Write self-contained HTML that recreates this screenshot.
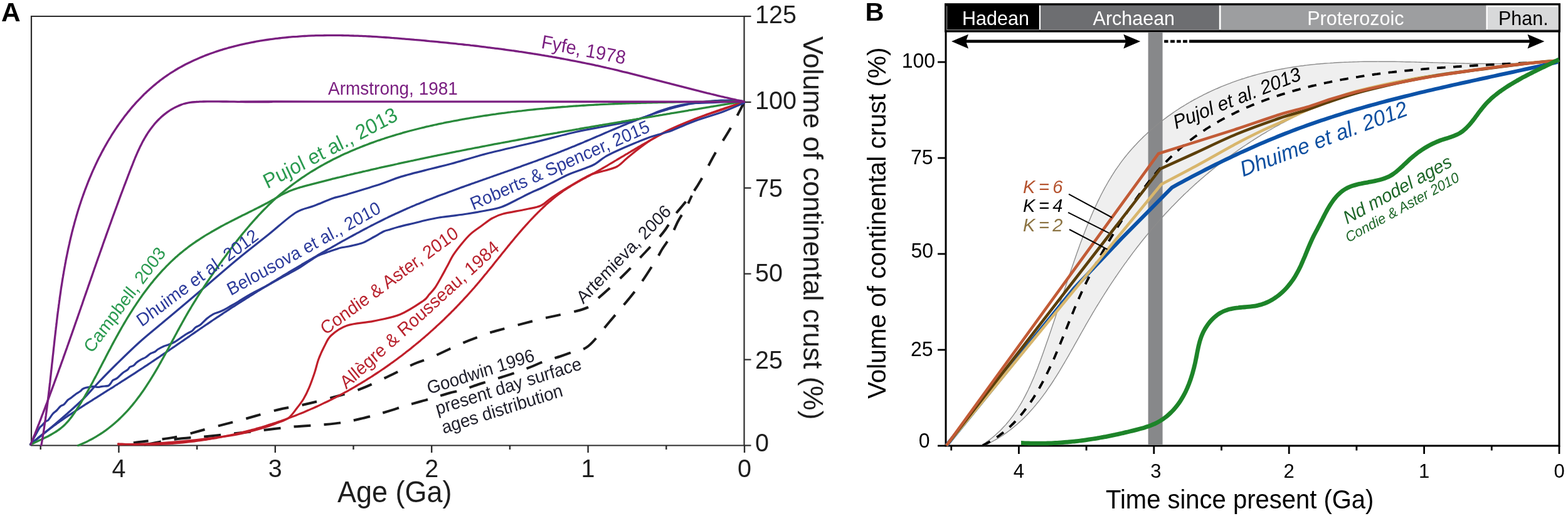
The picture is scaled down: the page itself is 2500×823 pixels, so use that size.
<!DOCTYPE html><html><head><meta charset="utf-8"><style>html,body{margin:0;padding:0;background:#fff;}svg{display:block;}text{font-family:'Liberation Sans',Arial,sans-serif;}</style></head><body>
<svg width="2500" height="823" viewBox="0 0 2500 823">
<rect width="2500" height="823" fill="#fff"/>
<text transform="translate(2.0,34.0)" font-size="42.5" fill="#000" font-weight="bold">A</text>
<path d="M50 26 H1186.5 V710.5 H50 Z" fill="none" stroke="#2b2b2b" stroke-width="2.2"/>
<path d="M1186.5 710.5 H1197.5" stroke="#2b2b2b" stroke-width="2.2"/>
<text transform="translate(1204.0,719.6) scale(1,1.040)" font-size="39.5" fill="#1e1e1e">0</text>
<path d="M1186.5 573.6 H1197.5" stroke="#2b2b2b" stroke-width="2.2"/>
<text transform="translate(1204.0,588.2) scale(1,1.040)" font-size="39.5" fill="#1e1e1e">25</text>
<path d="M1186.5 436.7 H1197.5" stroke="#2b2b2b" stroke-width="2.2"/>
<text transform="translate(1204.0,448.8) scale(1,1.040)" font-size="39.5" fill="#1e1e1e">50</text>
<path d="M1186.5 299.8 H1197.5" stroke="#2b2b2b" stroke-width="2.2"/>
<text transform="translate(1204.0,313.8) scale(1,1.040)" font-size="39.5" fill="#1e1e1e">75</text>
<path d="M1186.5 162.9 H1197.5" stroke="#2b2b2b" stroke-width="2.2"/>
<text transform="translate(1204.0,174.2) scale(1,1.040)" font-size="39.5" fill="#1e1e1e">100</text>
<path d="M1186.5 26.0 H1197.5" stroke="#2b2b2b" stroke-width="2.2"/>
<text transform="translate(1204.0,37.1) scale(1,1.040)" font-size="39.5" fill="#1e1e1e">125</text>
<path d="M64.7 710.5 V717.0" stroke="#2b2b2b" stroke-width="2.4"/>
<path d="M189.4 710.5 V722.0" stroke="#2b2b2b" stroke-width="2.4"/>
<text transform="translate(189.4,761.0) scale(1,1.040)" font-size="39.5" fill="#1e1e1e" text-anchor="middle">4</text>
<path d="M314.1 710.5 V717.0" stroke="#2b2b2b" stroke-width="2.4"/>
<path d="M438.8 710.5 V722.0" stroke="#2b2b2b" stroke-width="2.4"/>
<text transform="translate(438.8,761.0) scale(1,1.040)" font-size="39.5" fill="#1e1e1e" text-anchor="middle">3</text>
<path d="M563.5 710.5 V717.0" stroke="#2b2b2b" stroke-width="2.4"/>
<path d="M688.2 710.5 V722.0" stroke="#2b2b2b" stroke-width="2.4"/>
<text transform="translate(688.2,761.0) scale(1,1.040)" font-size="39.5" fill="#1e1e1e" text-anchor="middle">2</text>
<path d="M812.9 710.5 V717.0" stroke="#2b2b2b" stroke-width="2.4"/>
<path d="M937.6 710.5 V722.0" stroke="#2b2b2b" stroke-width="2.4"/>
<text transform="translate(937.6,761.0) scale(1,1.040)" font-size="39.5" fill="#1e1e1e" text-anchor="middle">1</text>
<path d="M1062.3 710.5 V717.0" stroke="#2b2b2b" stroke-width="2.4"/>
<path d="M1187.0 710.5 V722.0" stroke="#2b2b2b" stroke-width="2.4"/>
<text transform="translate(1187.0,761.0) scale(1,1.040)" font-size="39.5" fill="#1e1e1e" text-anchor="middle">0</text>
<text transform="translate(538.0,801.0) scale(1,1.060)" font-size="45.0" fill="#1e1e1e">Age (Ga)</text>
<text transform="translate(1280.5,57.8) rotate(90)" x="0" y="0" font-size="44.2" fill="#1e1e1e">Volume of continental crust (%)</text>
<path d="M230.3 709.5 C238.3 708.0 261.3 703.0 278.4 700.7 C295.5 698.4 313.1 697.7 333.1 695.7 C353.2 693.7 376.8 691.2 398.7 688.7 C420.6 686.2 444.2 683.0 464.3 681.0 C484.4 679.0 504.7 678.3 519.0 677.0 C533.3 675.7 540.4 674.9 550.0 673.3 C559.6 671.7 568.7 669.3 576.5 667.5 C584.3 665.7 589.1 664.6 597.0 662.4 C604.9 660.2 616.2 656.8 624.0 654.4 C631.8 652.0 636.3 650.3 644.0 648.0 C651.7 645.7 662.2 642.7 670.0 640.5 C677.8 638.3 683.2 637.0 691.0 634.7 C698.8 632.4 709.3 628.8 717.0 626.7 C724.7 624.6 729.3 624.3 737.0 622.0 C744.7 619.7 756.7 615.1 763.0 613.0 C769.3 610.9 768.8 611.2 775.0 609.3 C781.2 607.4 792.3 603.9 800.0 601.5 C807.7 599.1 813.2 597.5 821.0 594.7 C828.8 592.0 839.5 588.0 847.0 585.0 C854.5 582.0 858.3 579.8 866.0 577.0 C873.7 574.2 885.3 571.0 893.0 568.5 C900.7 566.0 904.5 564.5 912.0 561.7 C919.5 559.0 928.0 560.1 938.0 552.0 C948.0 543.9 959.2 528.2 972.0 513.0 C984.8 497.8 1002.8 477.2 1015.0 461.0 C1027.2 444.8 1038.2 426.7 1045.0 416.0 C1051.8 405.3 1051.8 403.7 1056.0 397.0 C1060.2 390.3 1065.8 383.3 1070.0 376.0 C1074.2 368.7 1077.2 360.2 1081.0 353.0 C1084.8 345.8 1089.3 339.8 1093.0 333.0 C1096.7 326.2 1101.3 315.5 1103.0 312.0" fill="none" stroke="#1a1a1a" stroke-width="4.0" stroke-linejoin="round" stroke-dasharray="27 21" stroke-linecap="butt"/>
<path d="M212.8 706.2 C223.7 704.7 258.3 701.2 278.4 697.4 C298.4 693.6 314.9 687.9 333.1 683.2 C351.3 678.5 369.5 673.9 387.7 669.0 C405.9 664.1 426.0 657.7 442.4 653.7 C458.8 649.7 471.5 648.3 486.1 645.0 C500.7 641.7 515.3 638.0 529.9 634.0 C544.5 630.0 559.0 626.4 573.6 620.9 C588.2 615.4 602.9 607.9 617.3 601.2 C631.7 594.5 648.2 585.7 660.0 580.5 C671.8 575.3 675.2 575.5 688.0 570.0 C700.8 564.5 722.5 553.6 737.0 547.4 C751.5 541.2 766.2 536.2 775.0 533.0 C783.8 529.8 775.5 532.0 790.0 528.0 C804.5 524.0 838.7 514.8 862.0 509.0 C885.3 503.2 915.3 498.0 930.0 493.0 C944.7 488.0 939.3 488.0 950.0 479.0 C960.7 470.0 980.7 452.0 994.0 439.0 C1007.3 426.0 1021.2 410.3 1030.0 401.0 C1038.8 391.7 1041.8 388.8 1047.0 383.0 C1052.2 377.2 1056.2 372.7 1061.0 366.0 C1065.8 359.3 1071.3 349.5 1076.0 343.0 C1080.7 336.5 1084.7 332.3 1089.0 327.0 C1093.3 321.7 1097.3 317.5 1102.0 311.0 C1106.7 304.5 1110.7 299.0 1117.0 288.0 C1123.3 277.0 1132.0 259.0 1140.0 245.0 C1148.0 231.0 1157.2 217.8 1165.0 204.0 C1172.8 190.2 1183.3 169.0 1187.0 162.0" fill="none" stroke="#1a1a1a" stroke-width="4.0" stroke-linejoin="round" stroke-dasharray="24 22" stroke-linecap="butt"/>
<path d="M188.5 707.8 C189.5 707.9 192.5 708.1 194.6 708.2 C196.6 708.3 198.7 708.4 200.7 708.5 C202.7 708.5 204.8 708.6 206.8 708.7 C208.9 708.7 210.9 708.8 212.9 708.8 C215.0 708.9 217.0 708.9 219.1 709.0 C221.1 709.0 223.1 709.0 225.2 709.0 C227.2 709.0 229.2 709.0 231.3 709.0 C233.3 709.0 235.3 709.0 237.4 708.9 C239.4 708.9 241.4 708.9 243.5 708.8 C245.5 708.8 247.5 708.7 249.6 708.6 C251.6 708.6 253.6 708.5 255.7 708.4 C257.7 708.3 259.7 708.2 261.7 708.1 C263.8 708.0 265.8 707.9 267.8 707.8 C269.8 707.7 271.9 707.5 273.9 707.4 C275.9 707.2 277.9 707.1 279.9 706.9 C282.0 706.8 284.0 706.6 286.0 706.4 C288.0 706.2 290.0 706.0 292.0 705.8 C294.1 705.6 296.1 705.4 298.1 705.2 C300.1 705.0 302.1 704.8 304.1 704.5 C306.1 704.3 308.1 704.1 310.1 703.8 C312.1 703.6 314.1 703.3 316.1 703.0 C318.1 702.8 320.1 702.5 322.1 702.2 C324.1 701.9 326.1 701.6 328.1 701.3 C330.1 701.0 332.1 700.7 334.1 700.3 C336.1 700.0 338.1 699.7 340.1 699.3 C342.1 699.0 344.1 698.6 346.1 698.3 C348.0 697.9 350.0 697.5 352.0 697.2 C354.0 696.8 356.0 696.4 357.9 696.0 C359.9 695.6 361.9 695.2 363.9 694.8 C365.8 694.4 367.8 693.9 369.8 693.5 C371.7 693.1 373.7 692.6 375.7 692.2 C377.6 691.7 379.6 691.3 381.6 690.8 C383.5 690.3 385.5 689.9 387.4 689.4 C389.4 688.9 391.3 688.4 393.3 687.9 C395.2 687.4 397.2 686.9 399.1 686.4 C401.1 685.8 403.0 685.3 405.0 684.8 C406.9 684.2 408.9 683.7 410.8 683.1 C412.7 682.6 414.7 682.0 416.6 681.5 C418.5 680.9 420.4 680.3 422.4 679.7 C424.3 679.1 426.2 678.5 428.1 677.9 C430.1 677.3 432.0 676.7 433.9 676.1 C435.8 675.4 437.7 674.8 439.6 674.2 C441.5 673.5 443.4 672.9 445.4 672.2 C447.3 671.6 449.2 670.9 451.1 670.2 C452.9 669.6 454.8 668.9 456.7 668.2 C458.6 667.5 460.5 666.8 462.4 666.1 C464.3 665.4 466.2 664.7 468.0 663.9 C469.9 663.2 471.8 662.5 473.7 661.7 C475.5 661.0 477.4 660.2 479.3 659.5 C481.1 658.7 483.0 658.0 484.9 657.2 C486.7 656.4 488.6 655.6 490.4 654.8 C492.3 654.0 494.1 653.2 496.0 652.4 C497.8 651.6 499.7 650.8 501.5 650.0 C503.4 649.2 505.2 648.3 507.0 647.5 C508.9 646.6 510.7 645.8 512.5 644.9 C514.3 644.1 516.1 643.2 518.0 642.3 C519.8 641.5 521.6 640.6 523.4 639.7 C525.2 638.8 527.0 637.9 528.8 637.0 C530.6 636.1 532.4 635.2 534.2 634.3 C536.0 633.3 537.8 632.4 539.6 631.5 C541.4 630.5 543.2 629.6 544.9 628.6 C546.7 627.7 548.5 626.7 550.3 625.7 C552.0 624.8 553.8 623.8 555.6 622.8 C557.3 621.8 559.1 620.8 560.8 619.8 C562.6 618.8 564.3 617.8 566.1 616.8 C567.8 615.8 569.6 614.8 571.3 613.7 C573.1 612.7 574.8 611.7 576.5 610.6 C578.3 609.6 580.0 608.5 581.7 607.5 C583.4 606.4 585.1 605.3 586.8 604.2 C588.6 603.2 590.3 602.1 592.0 601.0 C593.7 599.9 595.4 598.8 597.1 597.7 C598.8 596.6 600.5 595.5 602.1 594.4 C603.8 593.2 605.5 592.1 607.2 591.0 C608.9 589.9 610.5 588.7 612.2 587.6 C613.9 586.4 615.5 585.3 617.2 584.1 C618.8 582.9 620.5 581.8 622.1 580.6 C623.8 579.4 625.4 578.2 627.1 577.1 C628.7 575.9 630.4 574.7 632.0 573.5 C633.6 572.3 635.2 571.1 636.9 569.8 C638.5 568.6 640.1 567.4 641.7 566.2 C643.3 564.9 644.9 563.7 646.5 562.5 C648.1 561.2 649.7 560.0 651.3 558.7 C652.9 557.5 654.5 556.2 656.1 554.9 C657.7 553.7 659.2 552.4 660.8 551.1 C662.4 549.8 663.9 548.5 665.5 547.3 C667.1 546.0 668.6 544.7 670.2 543.4 C671.7 542.0 673.3 540.7 674.8 539.4 C676.3 538.1 677.9 536.8 679.4 535.4 C680.9 534.1 682.5 532.8 684.0 531.4 C685.5 530.1 687.0 528.7 688.5 527.4 C690.0 526.0 691.5 524.7 693.0 523.3 C694.5 521.9 696.0 520.6 697.5 519.2 C699.0 517.8 700.5 516.4 701.9 515.1 C703.4 513.7 704.9 512.3 706.4 510.9 C707.8 509.5 709.3 508.1 710.7 506.7 C712.2 505.2 713.6 503.8 715.1 502.4 C716.5 501.0 718.0 499.6 719.4 498.1 C720.8 496.7 722.2 495.2 723.7 493.8 C725.1 492.4 726.5 490.9 727.9 489.5 C729.3 488.0 730.7 486.5 732.1 485.1 C733.5 483.6 734.9 482.1 736.3 480.7 C737.7 479.2 739.0 477.7 740.4 476.2 C741.8 474.7 743.2 473.2 744.5 471.8 C745.9 470.3 747.2 468.8 748.6 467.2 C749.9 465.7 751.3 464.2 752.6 462.7 C753.9 461.2 755.3 459.7 756.6 458.2 C757.9 456.6 759.2 455.1 760.6 453.6 C761.9 452.0 763.2 450.5 764.5 448.9 C765.8 447.4 767.1 445.9 768.4 444.3 C769.7 442.8 770.9 441.2 772.2 439.6 C773.5 438.1 774.8 436.5 776.1 435.0 C777.3 433.4 778.6 431.8 779.9 430.3 C781.2 428.7 782.4 427.1 783.7 425.6 C785.0 424.0 786.2 422.4 787.5 420.9 C788.7 419.3 790.0 417.7 791.3 416.1 C792.5 414.6 793.8 413.0 795.0 411.4 C796.3 409.9 797.6 408.3 798.8 406.7 C800.1 405.1 801.3 403.6 802.6 402.0 C803.9 400.4 805.1 398.9 806.4 397.3 C807.7 395.7 808.9 394.2 810.2 392.6 C811.5 391.0 812.8 389.5 814.0 387.9 C815.3 386.4 816.6 384.8 817.9 383.3 C819.2 381.7 820.4 380.2 821.7 378.6 C823.0 377.1 824.3 375.6 825.6 374.0 C826.9 372.5 828.2 371.0 829.6 369.4 C830.9 367.9 832.2 366.4 833.5 364.9 C834.8 363.4 836.2 361.9 837.5 360.4 C838.9 358.9 840.2 357.4 841.6 355.9 C842.9 354.4 844.3 352.9 845.6 351.5 C847.0 350.0 848.4 348.5 849.8 347.1 C851.2 345.6 852.6 344.2 854.0 342.7 C855.4 341.3 856.8 339.8 858.2 338.4 C859.7 337.0 861.1 335.6 862.6 334.2 C864.0 332.8 865.5 331.4 866.9 330.0 C868.4 328.6 869.9 327.3 871.4 325.9 C872.9 324.6 874.4 323.3 875.9 321.9 C877.4 320.6 879.0 319.3 880.5 318.0 C882.0 316.7 883.6 315.5 885.2 314.2 C886.7 313.0 888.3 311.7 889.9 310.5 C891.5 309.3 893.1 308.1 894.8 306.9 C896.4 305.8 898.0 304.6 899.7 303.5 C901.3 302.4 903.0 301.3 904.7 300.2 C906.4 299.1 908.1 298.0 909.8 297.0 C911.5 295.9 913.2 294.9 915.0 293.9 C916.7 292.8 918.4 291.8 920.2 290.8 C921.9 289.8 923.7 288.9 925.4 287.9 C927.2 286.9 929.0 285.9 930.7 284.9 C932.5 284.0 934.3 283.0 936.0 282.1 C937.8 281.1 939.6 280.1 941.4 279.2 C943.1 278.2 944.9 277.2 946.7 276.3 C948.5 275.3 950.2 274.3 952.0 273.3 C953.8 272.3 955.5 271.3 957.3 270.3 C959.0 269.3 960.8 268.3 962.5 267.3 C964.3 266.3 966.0 265.3 967.8 264.3 C969.5 263.3 971.3 262.2 973.0 261.2 C974.8 260.2 976.5 259.2 978.2 258.1 C980.0 257.1 981.7 256.1 983.4 255.0 C985.2 254.0 986.9 253.0 988.7 251.9 C990.4 250.9 992.1 249.8 993.9 248.8 C995.6 247.8 997.3 246.7 999.1 245.7 C1000.8 244.7 1002.5 243.6 1004.3 242.6 C1006.0 241.6 1007.7 240.5 1009.5 239.5 C1011.2 238.5 1012.9 237.4 1014.7 236.4 C1016.4 235.4 1018.2 234.4 1019.9 233.3 C1021.6 232.3 1023.4 231.3 1025.1 230.3 C1026.9 229.3 1028.6 228.3 1030.4 227.3 C1032.1 226.3 1033.9 225.3 1035.6 224.3 C1037.4 223.3 1039.2 222.3 1040.9 221.4 C1042.7 220.4 1044.5 219.4 1046.2 218.5 C1048.0 217.5 1049.8 216.6 1051.6 215.6 C1053.3 214.7 1055.1 213.7 1056.9 212.8 C1058.7 211.9 1060.5 211.0 1062.3 210.1 C1064.1 209.2 1065.9 208.3 1067.7 207.4 C1069.5 206.5 1071.3 205.7 1073.2 204.8 C1075.0 204.0 1076.8 203.1 1078.6 202.3 C1080.5 201.4 1082.3 200.6 1084.2 199.8 C1086.0 199.0 1087.8 198.2 1089.7 197.4 C1091.5 196.6 1093.4 195.8 1095.3 195.0 C1097.1 194.2 1099.0 193.5 1100.9 192.7 C1102.7 191.9 1104.6 191.2 1106.5 190.4 C1108.3 189.7 1110.2 189.0 1112.1 188.2 C1114.0 187.5 1115.9 186.8 1117.8 186.1 C1119.7 185.3 1121.5 184.6 1123.4 183.9 C1125.3 183.2 1127.2 182.5 1129.1 181.8 C1131.0 181.2 1132.9 180.5 1134.8 179.8 C1136.8 179.1 1138.7 178.4 1140.6 177.8 C1142.5 177.1 1144.4 176.4 1146.3 175.8 C1148.2 175.1 1150.1 174.4 1152.0 173.8 C1154.0 173.1 1155.9 172.5 1157.8 171.8 C1159.7 171.2 1161.6 170.6 1163.6 169.9 C1165.5 169.3 1167.4 168.6 1169.3 168.0 C1171.3 167.4 1173.2 166.7 1175.1 166.1 C1177.0 165.5 1179.0 164.8 1180.9 164.2 C1182.8 163.6 1185.7 162.6 1186.6 162.3" fill="none" stroke="#c01f2a" stroke-width="3.2" stroke-linejoin="round" stroke-linecap="round" />
<path d="M188.7 709.0 C198.2 708.7 225.2 708.5 245.6 707.3 C266.0 706.1 289.3 704.2 311.2 701.8 C333.1 699.4 358.6 696.4 376.8 693.1 C395.0 689.8 409.6 685.2 420.5 682.1 C431.4 679.0 435.8 677.0 442.4 674.5 C449.0 672.0 454.8 670.6 459.9 666.8 C465.0 663.0 469.0 656.6 473.0 651.5 C477.0 646.4 480.7 641.7 484.0 636.2 C487.3 630.7 489.8 625.6 492.7 618.7 C495.6 611.8 498.9 602.4 501.5 594.7 C504.1 587.1 505.4 579.7 508.0 572.8 C510.6 565.9 513.5 559.4 516.8 553.1 C520.1 546.8 521.9 540.6 528.0 535.0 C534.1 529.4 542.1 523.0 553.4 519.2 C564.7 515.4 581.6 515.1 595.7 512.1 C609.8 509.2 624.9 506.9 638.0 501.5 C651.1 496.1 666.9 485.2 674.6 480.0 C682.3 474.8 680.9 473.5 684.0 470.0 C687.1 466.5 690.2 463.7 693.5 459.0 C696.8 454.3 700.5 447.3 703.7 441.7 C706.9 436.1 709.3 431.4 712.5 425.6 C715.7 419.8 718.8 412.8 722.7 406.7 C726.6 400.6 731.2 394.8 735.8 389.2 C740.4 383.6 745.0 378.0 750.4 373.1 C755.8 368.2 762.2 364.2 768.0 360.0 C773.8 355.8 779.4 351.1 785.0 348.0 C790.6 344.9 792.7 343.6 801.5 341.3 C810.3 339.0 827.9 336.2 838.0 334.0 C848.1 331.8 855.3 331.2 862.3 328.0 C869.3 324.8 872.5 320.0 880.0 315.0 C887.5 310.0 896.8 304.0 907.0 298.0 C917.2 292.0 931.3 283.3 941.0 279.0 C950.7 274.7 957.8 274.2 965.0 272.0 C972.2 269.8 978.2 268.8 984.0 265.5 C989.8 262.2 994.0 256.9 1000.0 252.0 C1006.0 247.1 1013.3 241.0 1020.0 236.0 C1026.7 231.0 1032.2 226.8 1040.0 222.0 C1047.8 217.2 1055.3 212.5 1067.0 207.0 C1078.7 201.5 1095.5 194.5 1110.0 189.0 C1124.5 183.5 1141.2 178.5 1154.0 174.0 C1166.8 169.5 1181.1 164.0 1186.5 162.0" fill="none" stroke="#c01f2a" stroke-width="3.2" stroke-linejoin="round" stroke-linecap="round" />
<path d="M48.5 709.0 C49.8 706.7 53.5 699.5 56.0 695.0 C58.5 690.5 61.4 684.8 63.3 682.0 C65.2 679.2 65.6 680.0 67.2 678.3 C68.8 676.6 71.4 673.4 73.0 672.0 C74.6 670.6 75.1 672.0 77.0 670.0 C78.9 668.0 82.0 662.5 84.2 660.0 C86.4 657.5 88.0 657.0 90.0 655.0 C92.0 653.0 94.4 649.7 96.4 648.0 C98.4 646.3 100.0 646.7 102.0 645.0 C104.0 643.3 106.1 639.8 108.1 638.0 C110.1 636.2 111.8 635.7 114.0 634.0 C116.2 632.3 119.3 629.7 121.6 628.0 C123.9 626.3 126.3 625.3 128.0 624.0 C129.7 622.7 130.4 621.4 131.9 620.4 C133.4 619.4 134.9 618.9 137.2 618.3 C139.5 617.7 143.6 617.3 145.5 617.0 C147.4 616.7 147.0 616.3 148.8 616.4 C150.7 616.5 154.3 617.5 156.6 617.5 C158.9 617.5 159.9 616.6 162.5 616.3 C165.1 615.9 169.9 616.1 172.2 615.4 C174.5 614.7 174.8 613.4 176.1 611.9 C177.4 610.4 178.3 608.0 180.0 606.6 C181.7 605.2 183.8 605.3 186.4 603.4 C189.0 601.5 192.7 597.3 195.5 595.0 C198.3 592.7 201.5 591.4 203.4 589.8 C205.3 588.2 205.6 586.4 207.2 585.3 C208.8 584.2 211.2 584.2 213.0 583.0 C214.8 581.8 216.1 579.6 218.0 578.0 C219.9 576.4 222.3 574.9 224.6 573.6 C226.9 572.3 229.4 571.6 232.0 570.0 C234.6 568.4 237.5 565.4 240.0 563.9 C242.5 562.4 245.0 562.1 247.0 561.0 C249.0 559.9 249.6 558.5 252.0 557.0 C254.4 555.5 258.5 553.5 261.2 552.3 C263.9 551.1 265.1 551.1 268.0 550.0 C270.9 548.9 275.0 547.3 278.3 545.5 C281.6 543.7 284.6 541.3 288.0 539.0 C291.4 536.7 295.7 533.7 298.7 531.9 C301.7 530.1 303.8 529.6 306.0 528.0 C308.2 526.4 309.8 523.6 312.0 522.0 C314.2 520.4 316.1 520.6 319.1 518.3 C322.1 516.0 326.6 510.8 330.0 508.0 C333.4 505.2 336.5 503.0 339.5 501.3 C342.5 499.6 345.2 499.1 348.0 498.0 C350.8 496.9 353.2 496.2 356.5 494.5 C359.8 492.8 364.1 490.2 368.0 488.0 C371.9 485.8 374.7 484.2 380.0 481.0 C385.3 477.8 392.2 473.3 400.0 469.0 C407.8 464.7 418.7 459.5 427.0 455.0 C435.3 450.5 441.8 446.5 450.0 442.0 C458.2 437.5 467.1 433.3 476.0 428.0 C484.9 422.7 495.8 414.2 503.1 410.0 C510.4 405.8 514.5 405.1 520.0 403.0 C525.5 400.9 532.2 398.8 536.0 397.5 C539.8 396.2 539.7 396.1 543.0 395.3 C546.3 394.6 551.7 393.9 556.0 393.0 C560.3 392.1 565.0 391.1 569.0 390.0 C573.0 388.9 575.5 388.6 580.0 386.6 C584.5 384.6 590.7 380.9 596.0 378.0 C601.3 375.1 607.7 371.0 612.0 369.0 C616.3 367.0 618.2 367.2 622.0 366.0 C625.8 364.8 628.7 363.7 635.0 362.0 C641.3 360.3 652.5 357.8 660.0 356.0 C667.5 354.2 673.3 352.5 680.0 351.0 C686.7 349.5 693.3 348.1 700.0 347.0 C706.7 345.9 712.5 345.4 720.0 344.4 C727.5 343.4 736.0 342.4 745.0 341.0 C754.0 339.6 764.8 337.8 774.0 336.0 C783.2 334.2 791.5 333.0 800.0 330.0 C808.5 327.0 817.5 321.7 825.0 318.0 C832.5 314.3 838.3 311.2 845.0 308.0 C851.7 304.8 858.3 302.2 865.0 299.0 C871.7 295.8 878.2 292.4 885.0 289.0 C891.8 285.6 897.8 282.0 906.0 278.5 C914.2 275.0 927.0 270.8 934.0 268.0 C941.0 265.2 942.8 265.0 948.0 262.0 C953.2 259.0 958.8 253.7 965.0 250.0 C971.2 246.3 977.8 243.3 985.0 240.0 C992.2 236.7 999.3 233.6 1008.0 230.0 C1016.7 226.4 1027.2 221.9 1037.0 218.5 C1046.8 215.1 1059.7 212.2 1067.0 209.8 C1074.3 207.4 1073.8 206.9 1081.0 204.0 C1088.2 201.1 1097.8 196.7 1110.0 192.3 C1122.2 187.9 1141.2 182.4 1154.0 177.7 C1166.8 173.0 1181.1 166.3 1186.5 164.0" fill="none" stroke="#2b3a94" stroke-width="3.2" stroke-linejoin="round" stroke-linecap="round" />
<path d="M48.4 708.8 C49.1 708.2 51.4 706.2 53.0 704.8 C54.5 703.5 56.1 702.2 57.6 701.0 C59.2 699.7 60.7 698.4 62.3 697.1 C63.9 695.8 65.4 694.6 67.0 693.3 C68.6 692.1 70.2 690.9 71.8 689.6 C73.4 688.4 75.0 687.2 76.6 686.0 C78.2 684.8 79.8 683.6 81.4 682.4 C83.0 681.2 84.7 680.0 86.3 678.8 C87.9 677.6 89.5 676.5 91.2 675.3 C92.8 674.1 94.4 673.0 96.1 671.8 C97.7 670.7 99.4 669.5 101.0 668.4 C102.7 667.3 104.3 666.1 106.0 665.0 C107.6 663.9 109.3 662.7 111.0 661.6 C112.6 660.5 114.3 659.4 116.0 658.3 C117.6 657.2 119.3 656.1 121.0 655.0 C122.7 653.9 124.3 652.8 126.0 651.7 C127.7 650.6 129.4 649.5 131.1 648.4 C132.7 647.4 134.4 646.3 136.1 645.2 C137.8 644.1 139.5 643.0 141.2 642.0 C142.9 640.9 144.6 639.8 146.3 638.8 C148.0 637.7 149.6 636.6 151.3 635.5 C153.0 634.5 154.7 633.4 156.4 632.3 C158.1 631.3 159.8 630.2 161.5 629.1 C163.2 628.1 164.9 627.0 166.6 625.9 C168.3 624.9 170.0 623.8 171.7 622.7 C173.4 621.7 175.1 620.6 176.8 619.5 C178.5 618.5 180.2 617.4 181.9 616.3 C183.6 615.3 185.2 614.2 186.9 613.1 C188.6 612.0 190.3 611.0 192.0 609.9 C193.7 608.8 195.4 607.7 197.1 606.7 C198.8 605.6 200.5 604.5 202.2 603.4 C203.8 602.3 205.5 601.3 207.2 600.2 C208.9 599.1 210.6 598.0 212.3 596.9 C213.9 595.8 215.6 594.7 217.3 593.6 C219.0 592.5 220.7 591.4 222.3 590.3 C224.0 589.2 225.7 588.1 227.4 587.0 C229.0 585.9 230.7 584.8 232.4 583.7 C234.1 582.6 235.7 581.5 237.4 580.4 C239.1 579.3 240.7 578.1 242.4 577.0 C244.1 575.9 245.7 574.8 247.4 573.7 C249.1 572.5 250.7 571.4 252.4 570.3 C254.1 569.2 255.7 568.1 257.4 566.9 C259.0 565.8 260.7 564.7 262.4 563.5 C264.0 562.4 265.7 561.3 267.3 560.2 C269.0 559.0 270.7 557.9 272.3 556.8 C274.0 555.6 275.6 554.5 277.3 553.4 C278.9 552.2 280.6 551.1 282.3 549.9 C283.9 548.8 285.6 547.7 287.2 546.5 C288.9 545.4 290.5 544.2 292.2 543.1 C293.8 542.0 295.5 540.8 297.1 539.7 C298.8 538.5 300.4 537.4 302.1 536.3 C303.7 535.1 305.4 534.0 307.0 532.8 C308.7 531.7 310.4 530.6 312.0 529.4 C313.7 528.3 315.3 527.1 317.0 526.0 C318.6 524.9 320.3 523.7 321.9 522.6 C323.6 521.5 325.3 520.3 326.9 519.2 C328.6 518.1 330.2 516.9 331.9 515.8 C333.6 514.7 335.2 513.5 336.9 512.4 C338.6 511.3 340.2 510.2 341.9 509.0 C343.6 507.9 345.2 506.8 346.9 505.7 C348.6 504.6 350.2 503.5 351.9 502.4 C353.6 501.2 355.3 500.1 356.9 499.0 C358.6 497.9 360.3 496.8 362.0 495.7 C363.6 494.6 365.3 493.5 367.0 492.4 C368.7 491.3 370.4 490.2 372.1 489.2 C373.7 488.1 375.4 487.0 377.1 485.9 C378.8 484.8 380.5 483.7 382.2 482.6 C383.9 481.6 385.6 480.5 387.3 479.4 C389.0 478.3 390.7 477.3 392.4 476.2 C394.1 475.1 395.8 474.0 397.5 473.0 C399.2 471.9 400.9 470.8 402.6 469.8 C404.3 468.7 406.0 467.6 407.7 466.6 C409.4 465.5 411.1 464.4 412.8 463.4 C414.5 462.3 416.2 461.3 417.9 460.2 C419.6 459.2 421.3 458.1 423.1 457.1 C424.8 456.0 426.5 454.9 428.2 453.9 C429.9 452.8 431.6 451.8 433.3 450.7 C435.1 449.7 436.8 448.6 438.5 447.6 C440.2 446.6 441.9 445.5 443.6 444.5 C445.4 443.4 447.1 442.4 448.8 441.3 C450.5 440.3 452.2 439.3 454.0 438.2 C455.7 437.2 457.4 436.1 459.1 435.1 C460.9 434.1 462.6 433.0 464.3 432.0 C466.0 431.0 467.8 430.0 469.5 428.9 C471.2 427.9 473.0 426.9 474.7 425.8 C476.4 424.8 478.1 423.8 479.9 422.8 C481.6 421.7 483.3 420.7 485.1 419.7 C486.8 418.7 488.5 417.7 490.3 416.6 C492.0 415.6 493.8 414.6 495.5 413.6 C497.2 412.6 499.0 411.6 500.7 410.6 C502.4 409.6 504.2 408.6 505.9 407.5 C507.7 406.5 509.4 405.5 511.2 404.5 C512.9 403.5 514.6 402.5 516.4 401.5 C518.1 400.5 519.9 399.5 521.6 398.5 C523.4 397.5 525.1 396.5 526.9 395.6 C528.6 394.6 530.4 393.6 532.1 392.6 C533.9 391.6 535.6 390.6 537.4 389.6 C539.1 388.6 540.9 387.7 542.6 386.7 C544.4 385.7 546.1 384.7 547.9 383.7 C549.7 382.8 551.4 381.8 553.2 380.8 C554.9 379.9 556.7 378.9 558.5 377.9 C560.2 377.0 562.0 376.0 563.7 375.0 C565.5 374.1 567.3 373.1 569.0 372.2 C570.8 371.2 572.6 370.2 574.3 369.3 C576.1 368.4 577.9 367.4 579.6 366.5 C581.4 365.5 583.2 364.6 585.0 363.7 C586.7 362.7 588.5 361.8 590.3 360.9 C592.1 359.9 593.9 359.0 595.6 358.1 C597.4 357.2 599.2 356.3 601.0 355.4 C602.8 354.5 604.6 353.6 606.4 352.7 C608.2 351.8 610.0 350.9 611.8 350.0 C613.6 349.1 615.4 348.2 617.2 347.4 C619.0 346.5 620.8 345.6 622.6 344.8 C624.4 343.9 626.2 343.0 628.0 342.2 C629.8 341.3 631.6 340.5 633.5 339.7 C635.3 338.8 637.1 338.0 638.9 337.2 C640.8 336.3 642.6 335.5 644.4 334.7 C646.3 333.9 648.1 333.1 649.9 332.3 C651.8 331.5 653.6 330.7 655.4 329.9 C657.3 329.1 659.1 328.4 661.0 327.6 C662.8 326.8 664.7 326.0 666.5 325.3 C668.4 324.5 670.2 323.8 672.1 323.0 C674.0 322.3 675.8 321.5 677.7 320.8 C679.6 320.0 681.4 319.3 683.3 318.6 C685.2 317.8 687.0 317.1 688.9 316.4 C690.8 315.7 692.6 314.9 694.5 314.2 C696.4 313.5 698.3 312.8 700.1 312.1 C702.0 311.4 703.9 310.7 705.8 310.0 C707.6 309.3 709.5 308.6 711.4 307.9 C713.3 307.2 715.2 306.5 717.1 305.8 C718.9 305.1 720.8 304.4 722.7 303.7 C724.6 303.0 726.5 302.3 728.4 301.6 C730.3 301.0 732.1 300.3 734.0 299.6 C735.9 298.9 737.8 298.2 739.7 297.6 C741.6 296.9 743.5 296.2 745.4 295.5 C747.3 294.9 749.2 294.2 751.0 293.5 C752.9 292.8 754.8 292.2 756.7 291.5 C758.6 290.8 760.5 290.2 762.4 289.5 C764.3 288.8 766.2 288.1 768.1 287.5 C770.0 286.8 771.9 286.1 773.8 285.5 C775.7 284.8 777.6 284.1 779.5 283.5 C781.3 282.8 783.2 282.1 785.1 281.5 C787.0 280.8 788.9 280.1 790.8 279.5 C792.7 278.8 794.6 278.1 796.5 277.5 C798.4 276.8 800.3 276.1 802.2 275.5 C804.1 274.8 806.0 274.1 807.9 273.5 C809.8 272.8 811.7 272.1 813.6 271.5 C815.5 270.8 817.4 270.1 819.3 269.4 C821.2 268.8 823.0 268.1 824.9 267.4 C826.8 266.7 828.7 266.1 830.6 265.4 C832.5 264.7 834.4 264.0 836.3 263.3 C838.2 262.7 840.1 262.0 842.0 261.3 C843.9 260.6 845.8 259.9 847.7 259.2 C849.5 258.5 851.4 257.8 853.3 257.2 C855.2 256.5 857.1 255.8 859.0 255.1 C860.9 254.4 862.8 253.7 864.7 253.0 C866.5 252.3 868.4 251.5 870.3 250.8 C872.2 250.1 874.1 249.4 876.0 248.7 C877.8 248.0 879.7 247.3 881.6 246.5 C883.5 245.8 885.4 245.1 887.3 244.4 C889.1 243.6 891.0 242.9 892.9 242.2 C894.8 241.4 896.7 240.7 898.5 240.0 C900.4 239.2 902.3 238.5 904.2 237.7 C906.0 237.0 907.9 236.2 909.8 235.4 C911.6 234.7 913.5 233.9 915.4 233.2 C917.2 232.4 919.1 231.6 921.0 230.8 C922.8 230.1 924.7 229.3 926.6 228.5 C928.4 227.7 930.3 226.9 932.2 226.1 C934.0 225.4 935.9 224.6 937.8 223.8 C939.6 223.0 941.5 222.2 943.3 221.4 C945.2 220.6 947.1 219.8 948.9 219.0 C950.8 218.2 952.6 217.4 954.5 216.6 C956.3 215.8 958.2 215.0 960.1 214.2 C961.9 213.4 963.8 212.6 965.6 211.8 C967.5 211.0 969.3 210.2 971.2 209.4 C973.1 208.6 974.9 207.8 976.8 207.0 C978.6 206.3 980.5 205.5 982.4 204.7 C984.2 203.9 986.1 203.1 987.9 202.4 C989.8 201.6 991.7 200.8 993.5 200.0 C995.4 199.3 997.3 198.5 999.1 197.7 C1001.0 197.0 1002.9 196.2 1004.7 195.5 C1006.6 194.7 1008.5 194.0 1010.3 193.3 C1012.2 192.5 1014.1 191.8 1015.9 191.1 C1017.8 190.4 1019.7 189.6 1021.6 188.9 C1023.4 188.2 1025.3 187.5 1027.2 186.8 C1029.1 186.1 1031.0 185.5 1032.8 184.8 C1034.7 184.1 1036.6 183.4 1038.5 182.8 C1040.4 182.1 1042.3 181.5 1044.2 180.8 C1046.1 180.2 1047.9 179.6 1049.8 179.0 C1051.7 178.4 1053.6 177.8 1055.5 177.2 C1057.4 176.6 1059.3 176.0 1061.3 175.4 C1063.2 174.9 1065.1 174.3 1067.0 173.8 C1068.9 173.2 1070.8 172.7 1072.7 172.2 C1074.6 171.6 1076.6 171.1 1078.5 170.7 C1080.4 170.2 1082.3 169.7 1084.3 169.2 C1086.2 168.8 1088.1 168.3 1090.1 167.9 C1092.0 167.5 1094.0 167.0 1095.9 166.6 C1097.9 166.2 1099.8 165.9 1101.8 165.5 C1103.7 165.1 1105.7 164.8 1107.6 164.4 C1109.6 164.1 1111.6 163.8 1113.5 163.5 C1115.5 163.2 1117.5 162.9 1119.5 162.7 C1121.4 162.4 1123.4 162.2 1125.4 161.9 C1127.4 161.7 1129.4 161.5 1131.4 161.3 C1133.4 161.1 1135.4 161.0 1137.4 160.8 C1139.4 160.7 1141.4 160.6 1143.4 160.5 C1145.4 160.4 1147.5 160.3 1149.5 160.2 C1151.5 160.2 1153.5 160.1 1155.6 160.1 C1157.6 160.1 1159.7 160.1 1161.7 160.1 C1163.8 160.2 1165.8 160.2 1167.9 160.3 C1169.9 160.4 1172.0 160.5 1174.1 160.6 C1176.1 160.7 1178.2 160.9 1180.3 161.0 C1182.4 161.2 1185.5 161.5 1186.6 161.6" fill="none" stroke="#2b3a94" stroke-width="3.2" stroke-linejoin="round" stroke-linecap="round" />
<path d="M48.5 709.0 C53.6 704.8 69.1 692.3 79.0 684.0 C88.9 675.7 99.0 667.0 108.0 659.0 C117.0 651.0 124.8 644.2 133.0 636.0 C141.2 627.8 148.1 619.3 157.0 610.0 C165.9 600.7 175.5 590.8 186.5 580.0 C197.5 569.2 210.8 556.1 223.0 545.2 C235.2 534.3 247.3 524.7 259.4 514.5 C271.5 504.3 284.0 493.9 295.8 484.0 C307.6 474.1 316.2 466.8 330.0 455.0 C343.8 443.2 362.4 426.9 378.6 413.5 C394.8 400.1 411.8 387.1 427.2 374.8 C442.6 362.5 458.8 347.2 470.9 339.5 C483.0 331.8 490.2 332.4 500.1 328.6 C510.0 324.8 521.7 319.4 530.0 316.5 C538.3 313.6 537.2 314.9 550.0 311.0 C562.8 307.1 592.0 298.3 607.0 293.4 C622.0 288.5 626.5 285.7 640.0 281.6 C653.5 277.5 674.7 272.4 688.0 269.0 C701.3 265.6 704.7 265.2 720.0 261.0 C735.3 256.8 758.7 249.5 780.0 244.0 C801.3 238.5 825.3 233.5 848.0 228.0 C870.7 222.5 896.2 215.5 916.0 211.0 C935.8 206.5 953.0 203.8 967.0 201.0 C981.0 198.2 989.5 197.0 1000.0 194.5 C1010.5 192.0 1021.3 188.9 1030.0 186.0 C1038.7 183.1 1043.5 179.9 1052.0 177.0 C1060.5 174.1 1071.3 170.6 1081.0 168.5 C1090.7 166.4 1092.4 165.6 1110.0 164.5 C1127.6 163.4 1173.8 162.4 1186.5 162.0" fill="none" stroke="#2b3a94" stroke-width="3.2" stroke-linejoin="round" stroke-linecap="round" />
<path d="M48.9 708.9 C49.8 708.5 52.5 707.2 54.3 706.4 C56.2 705.5 58.0 704.7 59.8 703.8 C61.7 703.0 63.5 702.1 65.4 701.3 C67.2 700.4 69.1 699.5 70.9 698.6 C72.7 697.7 74.6 696.8 76.4 695.9 C78.2 695.0 80.0 694.0 81.7 693.0 C83.5 692.0 85.3 691.0 87.0 689.9 C88.7 688.9 90.4 687.8 92.0 686.6 C93.7 685.5 95.3 684.3 96.8 683.1 C98.4 681.8 99.9 680.6 101.4 679.2 C102.8 677.9 104.3 676.5 105.6 675.0 C107.0 673.6 108.3 672.1 109.6 670.6 C110.9 669.0 112.1 667.5 113.4 665.9 C114.6 664.3 115.8 662.6 116.9 661.0 C118.1 659.4 119.2 657.7 120.3 656.0 C121.5 654.3 122.6 652.6 123.6 650.9 C124.7 649.2 125.8 647.5 126.9 645.8 C127.9 644.1 129.0 642.4 130.0 640.6 C131.1 638.9 132.1 637.2 133.1 635.5 C134.2 633.7 135.2 632.0 136.2 630.2 C137.2 628.5 138.2 626.8 139.2 625.0 C140.2 623.3 141.2 621.5 142.1 619.7 C143.1 618.0 144.1 616.2 145.0 614.5 C146.0 612.7 147.0 610.9 147.9 609.2 C148.9 607.4 149.8 605.6 150.7 603.8 C151.7 602.1 152.6 600.3 153.6 598.5 C154.5 596.7 155.4 595.0 156.4 593.2 C157.3 591.4 158.2 589.6 159.1 587.8 C160.1 586.0 161.0 584.3 161.9 582.5 C162.8 580.7 163.8 578.9 164.7 577.1 C165.6 575.3 166.5 573.5 167.5 571.8 C168.4 570.0 169.3 568.2 170.2 566.4 C171.2 564.6 172.1 562.8 173.0 561.0 C174.0 559.2 174.9 557.5 175.9 555.7 C176.8 553.9 177.7 552.1 178.7 550.3 C179.6 548.5 180.6 546.8 181.5 545.0 C182.5 543.2 183.5 541.4 184.4 539.7 C185.4 537.9 186.4 536.1 187.4 534.4 C188.3 532.6 189.3 530.8 190.3 529.1 C191.3 527.3 192.3 525.5 193.3 523.8 C194.3 522.0 195.3 520.3 196.4 518.5 C197.4 516.8 198.4 515.0 199.4 513.3 C200.5 511.6 201.5 509.8 202.5 508.1 C203.6 506.4 204.6 504.7 205.7 502.9 C206.8 501.2 207.8 499.5 208.9 497.8 C210.0 496.1 211.1 494.4 212.2 492.7 C213.2 491.0 214.3 489.3 215.5 487.6 C216.6 485.9 217.7 484.3 218.8 482.6 C219.9 480.9 221.1 479.3 222.2 477.6 C223.4 476.0 224.5 474.3 225.7 472.7 C226.8 471.0 228.0 469.4 229.2 467.8 C230.4 466.2 231.6 464.6 232.8 463.0 C234.0 461.4 235.2 459.8 236.4 458.2 C237.6 456.6 238.9 455.0 240.1 453.4 C241.4 451.9 242.6 450.3 243.9 448.8 C245.1 447.2 246.4 445.7 247.7 444.2 C249.0 442.6 250.3 441.1 251.6 439.6 C252.9 438.1 254.3 436.6 255.6 435.1 C256.9 433.7 258.3 432.2 259.6 430.7 C261.0 429.3 262.4 427.8 263.8 426.4 C265.1 425.0 266.5 423.5 268.0 422.1 C269.4 420.7 270.8 419.3 272.2 417.9 C273.7 416.5 275.1 415.2 276.6 413.8 C278.1 412.5 279.5 411.1 281.0 409.8 C282.5 408.5 284.0 407.1 285.6 405.8 C287.1 404.5 288.6 403.3 290.2 402.0 C291.7 400.7 293.3 399.5 294.9 398.2 C296.4 397.0 298.0 395.8 299.6 394.5 C301.3 393.3 302.9 392.1 304.5 390.9 C306.2 389.8 307.8 388.6 309.5 387.4 C311.1 386.3 312.8 385.1 314.5 384.0 C316.2 382.9 317.9 381.8 319.6 380.7 C321.3 379.6 323.0 378.5 324.7 377.4 C326.4 376.3 328.2 375.2 329.9 374.2 C331.7 373.1 333.4 372.1 335.2 371.1 C336.9 370.0 338.7 369.0 340.5 368.0 C342.2 367.0 344.0 366.0 345.8 365.0 C347.6 364.0 349.3 363.0 351.1 362.0 C352.9 361.0 354.7 360.1 356.5 359.1 C358.3 358.1 360.1 357.2 361.9 356.2 C363.7 355.3 365.5 354.4 367.3 353.4 C369.1 352.5 370.9 351.6 372.7 350.7 C374.5 349.7 376.3 348.8 378.1 347.9 C379.9 347.0 381.7 346.1 383.5 345.2 C385.3 344.3 387.1 343.4 388.9 342.6 C390.6 341.7 392.4 340.8 394.2 339.9 C396.0 339.0 397.8 338.1 399.6 337.3 C401.3 336.4 403.1 335.5 404.9 334.6 C406.7 333.7 408.4 332.8 410.2 331.9 C412.0 331.0 413.8 330.1 415.5 329.2 C417.3 328.3 419.1 327.4 420.8 326.5 C422.6 325.5 424.3 324.6 426.1 323.7 C427.9 322.7 429.6 321.7 431.4 320.8 C433.1 319.8 434.9 318.8 436.6 317.8 C438.4 316.8 440.1 315.8 441.9 314.8 C443.6 313.8 445.4 312.8 447.2 311.8 C449.0 310.9 450.7 309.9 452.5 309.0 C454.3 308.1 456.1 307.2 458.0 306.4 C459.8 305.5 461.6 304.7 463.5 304.0 C465.4 303.3 467.2 302.6 469.1 301.9 C471.0 301.3 472.9 300.6 474.9 300.0 C476.8 299.4 478.7 298.9 480.6 298.3 C482.6 297.8 484.5 297.3 486.5 296.7 C488.4 296.2 490.3 295.7 492.3 295.2 C494.2 294.6 496.2 294.1 498.1 293.6 C500.1 293.1 502.0 292.6 504.0 292.1 C505.9 291.6 507.9 291.1 509.8 290.6 C511.8 290.1 513.7 289.6 515.7 289.1 C517.6 288.6 519.6 288.1 521.5 287.6 C523.5 287.1 525.4 286.6 527.4 286.1 C529.3 285.6 531.3 285.1 533.3 284.7 C535.2 284.2 537.2 283.7 539.1 283.2 C541.1 282.7 543.0 282.3 545.0 281.8 C547.0 281.3 548.9 280.8 550.9 280.4 C552.8 279.9 554.8 279.4 556.8 279.0 C558.7 278.5 560.7 278.0 562.6 277.6 C564.6 277.1 566.6 276.6 568.5 276.2 C570.5 275.7 572.4 275.3 574.4 274.8 C576.4 274.3 578.3 273.9 580.3 273.4 C582.3 273.0 584.2 272.5 586.2 272.1 C588.1 271.6 590.1 271.2 592.1 270.7 C594.0 270.3 596.0 269.8 598.0 269.4 C599.9 268.9 601.9 268.5 603.9 268.0 C605.8 267.6 607.8 267.1 609.8 266.7 C611.7 266.3 613.7 265.8 615.7 265.4 C617.6 265.0 619.6 264.5 621.6 264.1 C623.5 263.6 625.5 263.2 627.5 262.8 C629.4 262.3 631.4 261.9 633.4 261.5 C635.3 261.0 637.3 260.6 639.3 260.2 C641.2 259.8 643.2 259.3 645.2 258.9 C647.1 258.5 649.1 258.1 651.1 257.6 C653.1 257.2 655.0 256.8 657.0 256.4 C659.0 256.0 660.9 255.5 662.9 255.1 C664.9 254.7 666.8 254.3 668.8 253.9 C670.8 253.4 672.8 253.0 674.7 252.6 C676.7 252.2 678.7 251.8 680.6 251.4 C682.6 251.0 684.6 250.6 686.6 250.2 C688.5 249.7 690.5 249.3 692.5 248.9 C694.5 248.5 696.4 248.1 698.4 247.7 C700.4 247.3 702.3 246.9 704.3 246.5 C706.3 246.1 708.3 245.7 710.2 245.3 C712.2 244.9 714.2 244.5 716.2 244.1 C718.1 243.7 720.1 243.3 722.1 242.9 C724.1 242.5 726.0 242.1 728.0 241.7 C730.0 241.3 732.0 240.9 733.9 240.6 C735.9 240.2 737.9 239.8 739.9 239.4 C741.9 239.0 743.8 238.6 745.8 238.2 C747.8 237.8 749.8 237.4 751.7 237.1 C753.7 236.7 755.7 236.3 757.7 235.9 C759.6 235.5 761.6 235.1 763.6 234.8 C765.6 234.4 767.6 234.0 769.5 233.6 C771.5 233.2 773.5 232.9 775.5 232.5 C777.4 232.1 779.4 231.7 781.4 231.3 C783.4 231.0 785.4 230.6 787.3 230.2 C789.3 229.8 791.3 229.5 793.3 229.1 C795.3 228.7 797.2 228.4 799.2 228.0 C801.2 227.6 803.2 227.2 805.2 226.9 C807.1 226.5 809.1 226.1 811.1 225.8 C813.1 225.4 815.1 225.0 817.0 224.7 C819.0 224.3 821.0 223.9 823.0 223.6 C825.0 223.2 827.0 222.8 828.9 222.5 C830.9 222.1 832.9 221.7 834.9 221.4 C836.9 221.0 838.8 220.7 840.8 220.3 C842.8 219.9 844.8 219.6 846.8 219.2 C848.8 218.9 850.7 218.5 852.7 218.1 C854.7 217.8 856.7 217.4 858.7 217.1 C860.7 216.7 862.6 216.4 864.6 216.0 C866.6 215.6 868.6 215.3 870.6 214.9 C872.6 214.6 874.5 214.2 876.5 213.9 C878.5 213.5 880.5 213.2 882.5 212.8 C884.5 212.5 886.4 212.1 888.4 211.8 C890.4 211.4 892.4 211.1 894.4 210.7 C896.4 210.4 898.3 210.0 900.3 209.7 C902.3 209.3 904.3 209.0 906.3 208.6 C908.3 208.3 910.3 207.9 912.2 207.6 C914.2 207.2 916.2 206.9 918.2 206.5 C920.2 206.2 922.2 205.9 924.1 205.5 C926.1 205.2 928.1 204.8 930.1 204.5 C932.1 204.1 934.1 203.8 936.1 203.4 C938.0 203.1 940.0 202.8 942.0 202.4 C944.0 202.1 946.0 201.7 948.0 201.4 C950.0 201.1 951.9 200.7 953.9 200.4 C955.9 200.0 957.9 199.7 959.9 199.4 C961.9 199.0 963.9 198.7 965.8 198.3 C967.8 198.0 969.8 197.7 971.8 197.3 C973.8 197.0 975.8 196.6 977.8 196.3 C979.8 196.0 981.7 195.6 983.7 195.3 C985.7 195.0 987.7 194.6 989.7 194.3 C991.7 193.9 993.7 193.6 995.6 193.3 C997.6 192.9 999.6 192.6 1001.6 192.3 C1003.6 191.9 1005.6 191.6 1007.6 191.3 C1009.6 190.9 1011.5 190.6 1013.5 190.3 C1015.5 189.9 1017.5 189.6 1019.5 189.3 C1021.5 188.9 1023.5 188.6 1025.4 188.3 C1027.4 187.9 1029.4 187.6 1031.4 187.3 C1033.4 186.9 1035.4 186.6 1037.4 186.3 C1039.4 185.9 1041.3 185.6 1043.3 185.3 C1045.3 184.9 1047.3 184.6 1049.3 184.3 C1051.3 183.9 1053.3 183.6 1055.3 183.3 C1057.2 182.9 1059.2 182.6 1061.2 182.3 C1063.2 181.9 1065.2 181.6 1067.2 181.3 C1069.2 180.9 1071.2 180.6 1073.1 180.3 C1075.1 180.0 1077.1 179.6 1079.1 179.3 C1081.1 179.0 1083.1 178.6 1085.1 178.3 C1087.1 178.0 1089.0 177.6 1091.0 177.3 C1093.0 177.0 1095.0 176.6 1097.0 176.3 C1099.0 176.0 1101.0 175.6 1102.9 175.3 C1104.9 175.0 1106.9 174.6 1108.9 174.3 C1110.9 174.0 1112.9 173.7 1114.9 173.3 C1116.9 173.0 1118.8 172.7 1120.8 172.3 C1122.8 172.0 1124.8 171.7 1126.8 171.3 C1128.8 171.0 1130.8 170.7 1132.8 170.3 C1134.7 170.0 1136.7 169.7 1138.7 169.3 C1140.7 169.0 1142.7 168.7 1144.7 168.3 C1146.7 168.0 1148.6 167.7 1150.6 167.3 C1152.6 167.0 1154.6 166.7 1156.6 166.3 C1158.6 166.0 1160.6 165.7 1162.5 165.3 C1164.5 165.0 1166.5 164.7 1168.5 164.3 C1170.5 164.0 1172.5 163.7 1174.5 163.3 C1176.5 163.0 1178.4 162.7 1180.4 162.3 C1182.4 162.0 1185.4 161.5 1186.4 161.3" fill="none" stroke="#2a8a3c" stroke-width="3.3" stroke-linejoin="round" stroke-linecap="round" />
<path d="M124.5 710.6 C125.5 710.1 128.5 708.9 130.5 708.1 C132.5 707.2 134.4 706.3 136.4 705.4 C138.3 704.5 140.2 703.6 142.0 702.6 C143.9 701.7 145.8 700.7 147.6 699.7 C149.4 698.7 151.2 697.7 153.0 696.6 C154.7 695.6 156.5 694.5 158.2 693.4 C159.9 692.3 161.6 691.2 163.3 690.1 C165.0 689.0 166.6 687.8 168.3 686.6 C169.9 685.4 171.5 684.2 173.1 683.0 C174.7 681.8 176.2 680.6 177.8 679.3 C179.3 678.1 180.8 676.8 182.3 675.5 C183.8 674.2 185.3 672.9 186.8 671.6 C188.2 670.2 189.7 668.9 191.1 667.5 C192.5 666.2 193.9 664.8 195.3 663.4 C196.7 662.0 198.1 660.6 199.4 659.1 C200.8 657.7 202.1 656.3 203.5 654.8 C204.8 653.3 206.1 651.9 207.4 650.4 C208.7 648.9 209.9 647.4 211.2 645.9 C212.4 644.3 213.7 642.8 214.9 641.3 C216.1 639.7 217.4 638.2 218.6 636.6 C219.8 635.0 220.9 633.4 222.1 631.9 C223.3 630.3 224.5 628.7 225.6 627.0 C226.8 625.4 227.9 623.8 229.0 622.2 C230.1 620.5 231.3 618.9 232.4 617.2 C233.5 615.6 234.6 613.9 235.6 612.2 C236.7 610.6 237.8 608.9 238.9 607.2 C239.9 605.5 241.0 603.8 242.0 602.1 C243.1 600.4 244.1 598.7 245.2 596.9 C246.2 595.2 247.2 593.5 248.2 591.8 C249.3 590.0 250.3 588.3 251.3 586.6 C252.3 584.8 253.3 583.1 254.3 581.3 C255.3 579.5 256.3 577.8 257.2 576.0 C258.2 574.3 259.2 572.5 260.2 570.7 C261.2 569.0 262.1 567.2 263.1 565.4 C264.1 563.6 265.0 561.9 266.0 560.1 C267.0 558.3 267.9 556.5 268.9 554.7 C269.8 553.0 270.8 551.2 271.8 549.4 C272.7 547.6 273.7 545.8 274.6 544.0 C275.6 542.3 276.5 540.5 277.5 538.7 C278.5 536.9 279.4 535.1 280.4 533.3 C281.3 531.6 282.3 529.8 283.2 528.0 C284.2 526.2 285.2 524.5 286.1 522.7 C287.1 520.9 288.1 519.1 289.1 517.4 C290.0 515.6 291.0 513.9 292.0 512.1 C293.0 510.3 293.9 508.6 294.9 506.9 C295.9 505.1 296.9 503.4 297.9 501.6 C298.9 499.9 299.9 498.2 300.9 496.4 C302.0 494.7 303.0 493.0 304.0 491.3 C305.0 489.6 306.1 487.9 307.1 486.2 C308.1 484.5 309.2 482.8 310.2 481.1 C311.3 479.4 312.3 477.7 313.4 476.0 C314.4 474.3 315.5 472.6 316.6 470.9 C317.6 469.3 318.7 467.6 319.8 465.9 C320.8 464.2 321.9 462.6 323.0 460.9 C324.1 459.2 325.2 457.6 326.3 455.9 C327.4 454.3 328.5 452.6 329.6 451.0 C330.7 449.3 331.8 447.6 333.0 446.0 C334.1 444.3 335.2 442.7 336.3 441.1 C337.5 439.4 338.6 437.8 339.7 436.1 C340.9 434.5 342.0 432.8 343.2 431.2 C344.3 429.6 345.5 427.9 346.6 426.3 C347.8 424.6 349.0 423.0 350.1 421.4 C351.3 419.7 352.5 418.1 353.6 416.5 C354.8 414.8 356.0 413.2 357.2 411.6 C358.4 409.9 359.6 408.3 360.8 406.7 C362.0 405.0 363.2 403.4 364.4 401.8 C365.6 400.2 366.8 398.5 368.0 396.9 C369.2 395.3 370.5 393.7 371.7 392.1 C372.9 390.4 374.2 388.8 375.4 387.2 C376.7 385.6 377.9 384.0 379.2 382.4 C380.4 380.8 381.7 379.2 383.0 377.7 C384.2 376.1 385.5 374.5 386.8 372.9 C388.1 371.3 389.4 369.8 390.7 368.2 C392.0 366.6 393.3 365.1 394.6 363.5 C395.9 362.0 397.2 360.4 398.5 358.9 C399.8 357.4 401.2 355.8 402.5 354.3 C403.8 352.8 405.2 351.3 406.5 349.8 C407.9 348.3 409.3 346.8 410.6 345.3 C412.0 343.8 413.4 342.3 414.8 340.9 C416.1 339.4 417.5 337.9 418.9 336.5 C420.3 335.0 421.7 333.6 423.2 332.2 C424.6 330.8 426.0 329.3 427.4 327.9 C428.9 326.5 430.3 325.1 431.8 323.7 C433.2 322.4 434.7 321.0 436.1 319.6 C437.6 318.3 439.1 316.9 440.6 315.6 C442.1 314.3 443.6 312.9 445.1 311.6 C446.6 310.3 448.1 309.0 449.6 307.8 C451.1 306.5 452.7 305.2 454.2 304.0 C455.7 302.7 457.3 301.5 458.8 300.2 C460.4 299.0 462.0 297.8 463.5 296.6 C465.1 295.4 466.7 294.2 468.3 293.0 C469.9 291.8 471.5 290.6 473.1 289.5 C474.7 288.3 476.3 287.2 477.9 286.1 C479.6 284.9 481.2 283.8 482.8 282.7 C484.5 281.6 486.1 280.5 487.8 279.4 C489.4 278.3 491.1 277.3 492.8 276.2 C494.4 275.1 496.1 274.1 497.8 273.0 C499.5 272.0 501.2 271.0 502.9 270.0 C504.6 268.9 506.3 267.9 508.0 266.9 C509.7 265.9 511.4 265.0 513.1 264.0 C514.9 263.0 516.6 262.1 518.3 261.1 C520.1 260.2 521.8 259.2 523.6 258.3 C525.3 257.4 527.1 256.4 528.9 255.5 C530.6 254.6 532.4 253.7 534.2 252.8 C535.9 251.9 537.7 251.1 539.5 250.2 C541.3 249.3 543.1 248.5 544.9 247.6 C546.7 246.8 548.5 245.9 550.3 245.1 C552.1 244.3 554.0 243.5 555.8 242.7 C557.6 241.9 559.4 241.1 561.3 240.3 C563.1 239.5 564.9 238.7 566.8 237.9 C568.6 237.2 570.5 236.4 572.3 235.7 C574.2 234.9 576.0 234.2 577.9 233.4 C579.8 232.7 581.6 232.0 583.5 231.3 C585.4 230.5 587.3 229.8 589.1 229.1 C591.0 228.4 592.9 227.7 594.8 227.1 C596.7 226.4 598.6 225.7 600.5 225.0 C602.4 224.4 604.3 223.7 606.2 223.1 C608.1 222.4 610.0 221.8 611.9 221.2 C613.8 220.5 615.8 219.9 617.7 219.3 C619.6 218.7 621.5 218.1 623.5 217.5 C625.4 216.9 627.3 216.3 629.2 215.7 C631.2 215.1 633.1 214.5 635.1 214.0 C637.0 213.4 638.9 212.8 640.9 212.3 C642.8 211.7 644.8 211.2 646.7 210.6 C648.7 210.1 650.6 209.6 652.6 209.0 C654.6 208.5 656.5 208.0 658.5 207.5 C660.4 207.0 662.4 206.5 664.4 206.0 C666.3 205.5 668.3 205.0 670.3 204.5 C672.3 204.0 674.2 203.5 676.2 203.1 C678.2 202.6 680.2 202.1 682.1 201.7 C684.1 201.2 686.1 200.8 688.1 200.3 C690.1 199.9 692.0 199.4 694.0 199.0 C696.0 198.6 698.0 198.1 700.0 197.7 C702.0 197.3 704.0 196.9 706.0 196.5 C707.9 196.0 709.9 195.6 711.9 195.2 C713.9 194.8 715.9 194.4 717.9 194.1 C719.9 193.7 721.9 193.3 723.9 192.9 C725.9 192.5 727.9 192.1 729.9 191.8 C731.9 191.4 733.9 191.0 735.9 190.7 C737.9 190.3 739.8 190.0 741.8 189.6 C743.8 189.3 745.8 188.9 747.8 188.6 C749.8 188.2 751.8 187.9 753.8 187.6 C755.8 187.2 757.8 186.9 759.8 186.6 C761.8 186.3 763.8 185.9 765.8 185.6 C767.8 185.3 769.8 185.0 771.8 184.7 C773.8 184.4 775.8 184.1 777.8 183.8 C779.8 183.5 781.7 183.2 783.7 182.9 C785.7 182.6 787.7 182.3 789.7 182.1 C791.7 181.8 793.7 181.5 795.7 181.2 C797.7 181.0 799.7 180.7 801.7 180.4 C803.7 180.2 805.7 179.9 807.7 179.7 C809.7 179.4 811.7 179.1 813.6 178.9 C815.6 178.6 817.6 178.4 819.6 178.2 C821.6 177.9 823.6 177.7 825.6 177.4 C827.6 177.2 829.6 177.0 831.6 176.8 C833.6 176.5 835.6 176.3 837.6 176.1 C839.6 175.9 841.6 175.7 843.6 175.4 C845.5 175.2 847.5 175.0 849.5 174.8 C851.5 174.6 853.5 174.4 855.5 174.2 C857.5 174.0 859.5 173.8 861.5 173.6 C863.5 173.4 865.5 173.2 867.5 173.1 C869.5 172.9 871.5 172.7 873.5 172.5 C875.5 172.3 877.5 172.2 879.4 172.0 C881.4 171.8 883.4 171.6 885.4 171.5 C887.4 171.3 889.4 171.2 891.4 171.0 C893.4 170.8 895.4 170.7 897.4 170.5 C899.4 170.4 901.4 170.2 903.4 170.1 C905.4 169.9 907.4 169.8 909.4 169.6 C911.4 169.5 913.4 169.4 915.4 169.2 C917.4 169.1 919.4 168.9 921.3 168.8 C923.3 168.7 925.3 168.6 927.3 168.4 C929.3 168.3 931.3 168.2 933.3 168.1 C935.3 167.9 937.3 167.8 939.3 167.7 C941.3 167.6 943.3 167.5 945.3 167.4 C947.3 167.3 949.3 167.1 951.3 167.0 C953.3 166.9 955.3 166.8 957.3 166.7 C959.3 166.6 961.3 166.5 963.3 166.4 C965.3 166.3 967.3 166.2 969.3 166.2 C971.3 166.1 973.3 166.0 975.3 165.9 C977.3 165.8 979.3 165.7 981.3 165.6 C983.3 165.5 985.3 165.5 987.3 165.4 C989.3 165.3 991.3 165.2 993.3 165.1 C995.3 165.1 997.3 165.0 999.3 164.9 C1001.3 164.9 1003.3 164.8 1005.3 164.7 C1007.3 164.7 1009.3 164.6 1011.3 164.5 C1013.3 164.5 1015.3 164.4 1017.3 164.3 C1019.3 164.3 1021.3 164.2 1023.3 164.2 C1025.4 164.1 1027.4 164.0 1029.4 164.0 C1031.4 163.9 1033.4 163.9 1035.4 163.8 C1037.4 163.8 1039.4 163.7 1041.4 163.7 C1043.4 163.6 1045.4 163.6 1047.4 163.5 C1049.4 163.5 1051.4 163.4 1053.4 163.4 C1055.5 163.4 1057.5 163.3 1059.5 163.3 C1061.5 163.2 1063.5 163.2 1065.5 163.2 C1067.5 163.1 1069.5 163.1 1071.5 163.0 C1073.5 163.0 1075.6 163.0 1077.6 162.9 C1079.6 162.9 1081.6 162.9 1083.6 162.8 C1085.6 162.8 1087.6 162.8 1089.6 162.7 C1091.7 162.7 1093.7 162.7 1095.7 162.7 C1097.7 162.6 1099.7 162.6 1101.7 162.6 C1103.7 162.6 1105.8 162.5 1107.8 162.5 C1109.8 162.5 1111.8 162.5 1113.8 162.4 C1115.8 162.4 1117.9 162.4 1119.9 162.4 C1121.9 162.3 1123.9 162.3 1125.9 162.3 C1128.0 162.3 1130.0 162.3 1132.0 162.2 C1134.0 162.2 1136.0 162.2 1138.1 162.2 C1140.1 162.2 1142.1 162.1 1144.1 162.1 C1146.1 162.1 1148.2 162.1 1150.2 162.1 C1152.2 162.0 1154.2 162.0 1156.3 162.0 C1158.3 162.0 1160.3 162.0 1162.3 162.0 C1164.4 161.9 1166.4 161.9 1168.4 161.9 C1170.5 161.9 1172.5 161.9 1174.5 161.9 C1176.5 161.8 1178.6 161.8 1180.6 161.8 C1182.6 161.8 1185.7 161.8 1186.7 161.8" fill="none" stroke="#2a8a3c" stroke-width="3.3" stroke-linejoin="round" stroke-linecap="round" />
<path d="M49.0 708.9 C49.4 707.9 50.5 705.1 51.3 703.2 C52.0 701.3 52.8 699.4 53.5 697.5 C54.3 695.6 55.0 693.8 55.8 691.9 C56.5 690.0 57.3 688.1 58.0 686.2 C58.8 684.3 59.5 682.4 60.2 680.5 C61.0 678.6 61.7 676.7 62.5 674.8 C63.2 672.9 63.9 671.0 64.7 669.1 C65.4 667.2 66.1 665.3 66.8 663.4 C67.6 661.5 68.3 659.7 69.0 657.8 C69.7 655.9 70.5 654.0 71.2 652.1 C71.9 650.2 72.6 648.3 73.3 646.4 C74.0 644.5 74.8 642.6 75.5 640.7 C76.2 638.8 76.9 636.9 77.6 635.0 C78.3 633.1 79.0 631.2 79.7 629.3 C80.4 627.4 81.1 625.5 81.8 623.6 C82.5 621.7 83.2 619.8 83.9 617.9 C84.6 616.0 85.3 614.1 86.0 612.2 C86.7 610.3 87.4 608.3 88.1 606.4 C88.8 604.5 89.5 602.6 90.2 600.7 C90.9 598.8 91.6 596.9 92.3 595.0 C93.0 593.1 93.6 591.2 94.3 589.3 C95.0 587.4 95.7 585.5 96.4 583.6 C97.1 581.7 97.7 579.8 98.4 577.9 C99.1 576.0 99.8 574.1 100.5 572.2 C101.1 570.3 101.8 568.3 102.5 566.4 C103.2 564.5 103.9 562.6 104.5 560.7 C105.2 558.8 105.9 556.9 106.6 555.0 C107.2 553.1 107.9 551.2 108.6 549.3 C109.2 547.4 109.9 545.5 110.6 543.6 C111.3 541.6 111.9 539.7 112.6 537.8 C113.3 535.9 113.9 534.0 114.6 532.1 C115.3 530.2 115.9 528.3 116.6 526.4 C117.3 524.5 117.9 522.6 118.6 520.6 C119.3 518.7 119.9 516.8 120.6 514.9 C121.3 513.0 121.9 511.1 122.6 509.2 C123.3 507.3 123.9 505.4 124.6 503.5 C125.3 501.6 125.9 499.6 126.6 497.7 C127.2 495.8 127.9 493.9 128.6 492.0 C129.2 490.1 129.9 488.2 130.6 486.3 C131.2 484.4 131.9 482.4 132.5 480.5 C133.2 478.6 133.9 476.7 134.5 474.8 C135.2 472.9 135.9 471.0 136.5 469.1 C137.2 467.2 137.8 465.3 138.5 463.3 C139.2 461.4 139.8 459.5 140.5 457.6 C141.1 455.7 141.8 453.8 142.5 451.9 C143.1 450.0 143.8 448.1 144.5 446.1 C145.1 444.2 145.8 442.3 146.5 440.4 C147.1 438.5 147.8 436.6 148.4 434.7 C149.1 432.8 149.8 430.9 150.4 428.9 C151.1 427.0 151.8 425.1 152.4 423.2 C153.1 421.3 153.8 419.4 154.4 417.5 C155.1 415.6 155.8 413.7 156.4 411.8 C157.1 409.8 157.8 407.9 158.5 406.0 C159.1 404.1 159.8 402.2 160.5 400.3 C161.1 398.4 161.8 396.5 162.5 394.6 C163.2 392.7 163.8 390.7 164.5 388.8 C165.2 386.9 165.9 385.0 166.5 383.1 C167.2 381.2 167.9 379.3 168.6 377.4 C169.2 375.5 169.9 373.6 170.6 371.6 C171.3 369.7 172.0 367.8 172.7 365.9 C173.3 364.0 174.0 362.1 174.7 360.2 C175.4 358.3 176.1 356.4 176.8 354.5 C177.5 352.6 178.1 350.7 178.8 348.7 C179.5 346.8 180.2 344.9 180.9 343.0 C181.6 341.1 182.3 339.2 183.0 337.3 C183.7 335.4 184.4 333.5 185.1 331.6 C185.8 329.7 186.5 327.8 187.2 325.9 C187.9 324.0 188.6 322.1 189.3 320.1 C190.0 318.2 190.7 316.3 191.4 314.4 C192.1 312.5 192.8 310.6 193.5 308.7 C194.2 306.8 195.0 304.9 195.7 303.0 C196.4 301.1 197.1 299.2 197.8 297.3 C198.5 295.4 199.3 293.5 200.0 291.6 C200.7 289.7 201.4 287.8 202.2 285.9 C202.9 284.0 203.6 282.1 204.3 280.2 C205.1 278.3 205.8 276.4 206.5 274.5 C207.3 272.6 208.0 270.7 208.7 268.8 C209.5 266.9 210.2 265.0 211.0 263.1 C211.7 261.2 212.5 259.3 213.2 257.4 C214.0 255.5 214.8 253.6 215.5 251.7 C216.3 249.9 217.1 248.0 217.9 246.1 C218.7 244.3 219.5 242.4 220.4 240.6 C221.2 238.7 222.1 236.9 222.9 235.1 C223.8 233.3 224.7 231.4 225.6 229.7 C226.5 227.9 227.4 226.1 228.4 224.3 C229.4 222.6 230.3 220.8 231.4 219.1 C232.4 217.4 233.4 215.7 234.5 214.0 C235.5 212.3 236.6 210.6 237.8 209.0 C238.9 207.4 240.1 205.7 241.3 204.2 C242.5 202.6 243.7 201.0 245.0 199.5 C246.2 197.9 247.5 196.4 248.9 194.9 C250.2 193.4 251.6 192.0 253.1 190.5 C254.5 189.1 256.0 187.7 257.5 186.3 C259.0 185.0 260.6 183.7 262.2 182.4 C263.8 181.1 265.5 179.8 267.1 178.6 C268.8 177.5 270.5 176.3 272.3 175.2 C274.0 174.1 275.8 173.1 277.6 172.1 C279.4 171.1 281.2 170.2 283.1 169.4 C285.0 168.5 286.8 167.8 288.7 167.1 C290.6 166.4 292.6 165.8 294.5 165.2 C296.5 164.7 298.4 164.2 300.4 163.9 C302.4 163.5 304.3 163.2 306.3 163.0 C308.3 162.8 310.3 162.6 312.4 162.5 C314.4 162.3 316.4 162.3 318.4 162.2 C320.4 162.1 322.4 162.1 324.5 162.0 C326.5 162.0 328.5 162.0 330.5 161.9 C332.6 161.9 334.6 161.9 336.6 161.9 C338.6 161.9 340.7 161.9 342.7 161.9 C344.7 161.9 346.7 161.9 348.8 161.9 C350.8 161.9 352.8 161.9 354.9 162.0 C356.9 162.0 358.9 162.0 360.9 162.0 C363.0 162.1 365.0 162.1 367.0 162.1 C369.1 162.2 371.1 162.2 373.1 162.2 C375.2 162.3 377.2 162.3 379.2 162.3 C381.3 162.4 383.3 162.4 385.3 162.4 C387.3 162.5 389.4 162.5 391.4 162.5 C393.4 162.6 395.5 162.6 397.5 162.6 C399.5 162.6 401.5 162.7 403.6 162.7 C405.6 162.7 407.6 162.7 409.7 162.7 C411.7 162.7 413.7 162.7 415.7 162.7 C417.8 162.6 419.8 162.6 421.8 162.6 C423.8 162.5 425.8 162.5 427.9 162.5 C429.9 162.4 431.9 162.3 433.9 162.3 C435.9 162.2 314.5 162.0 440.0 162.0 C565.4 162.0 1062.1 162.3 1186.5 162.3" fill="none" stroke="#7a1f80" stroke-width="3.3" stroke-linejoin="round" stroke-linecap="round" />
<path d="M65.9 710.1 C66.1 709.1 66.6 706.2 66.9 704.3 C67.2 702.3 67.6 700.4 67.9 698.4 C68.2 696.4 68.5 694.5 68.8 692.5 C69.1 690.6 69.5 688.6 69.8 686.6 C70.1 684.7 70.4 682.7 70.6 680.7 C70.9 678.8 71.2 676.8 71.5 674.8 C71.8 672.9 72.1 670.9 72.4 668.9 C72.6 666.9 72.9 665.0 73.2 663.0 C73.4 661.0 73.7 659.0 74.0 657.1 C74.2 655.1 74.5 653.1 74.8 651.1 C75.0 649.1 75.3 647.2 75.5 645.2 C75.8 643.2 76.0 641.2 76.3 639.2 C76.5 637.2 76.7 635.2 77.0 633.3 C77.2 631.3 77.5 629.3 77.7 627.3 C77.9 625.3 78.2 623.3 78.4 621.3 C78.6 619.3 78.9 617.3 79.1 615.3 C79.3 613.4 79.5 611.4 79.8 609.4 C80.0 607.4 80.2 605.4 80.4 603.4 C80.6 601.4 80.9 599.4 81.1 597.4 C81.3 595.4 81.5 593.4 81.7 591.4 C82.0 589.4 82.2 587.4 82.4 585.4 C82.6 583.4 82.8 581.4 83.0 579.4 C83.3 577.4 83.5 575.4 83.7 573.4 C83.9 571.4 84.1 569.4 84.3 567.4 C84.6 565.4 84.8 563.4 85.0 561.4 C85.2 559.4 85.4 557.4 85.6 555.4 C85.9 553.4 86.1 551.4 86.3 549.4 C86.5 547.4 86.7 545.4 86.9 543.4 C87.2 541.4 87.4 539.4 87.6 537.4 C87.8 535.4 88.1 533.4 88.3 531.4 C88.5 529.4 88.7 527.4 89.0 525.4 C89.2 523.4 89.4 521.4 89.7 519.4 C89.9 517.4 90.1 515.4 90.4 513.4 C90.6 511.4 90.9 509.4 91.1 507.4 C91.3 505.4 91.6 503.4 91.8 501.4 C92.1 499.4 92.3 497.4 92.6 495.4 C92.8 493.4 93.1 491.4 93.4 489.4 C93.6 487.4 93.9 485.4 94.2 483.4 C94.4 481.4 94.7 479.4 95.0 477.4 C95.2 475.4 95.5 473.4 95.8 471.4 C96.1 469.4 96.4 467.4 96.7 465.4 C97.0 463.4 97.2 461.4 97.5 459.4 C97.8 457.5 98.2 455.5 98.5 453.5 C98.8 451.5 99.1 449.5 99.4 447.5 C99.7 445.5 100.0 443.5 100.4 441.6 C100.7 439.6 101.0 437.6 101.4 435.6 C101.7 433.6 102.1 431.6 102.4 429.7 C102.8 427.7 103.1 425.7 103.5 423.7 C103.8 421.7 104.2 419.8 104.6 417.8 C104.9 415.8 105.3 413.8 105.7 411.9 C106.1 409.9 106.5 407.9 106.9 406.0 C107.3 404.0 107.7 402.0 108.1 400.1 C108.5 398.1 108.9 396.1 109.4 394.2 C109.8 392.2 110.2 390.2 110.7 388.3 C111.1 386.3 111.6 384.3 112.0 382.4 C112.5 380.4 112.9 378.5 113.4 376.5 C113.9 374.6 114.3 372.6 114.8 370.7 C115.3 368.7 115.8 366.8 116.3 364.8 C116.8 362.9 117.3 360.9 117.9 359.0 C118.4 357.0 118.9 355.1 119.4 353.2 C120.0 351.2 120.5 349.3 121.1 347.4 C121.6 345.4 122.2 343.5 122.8 341.6 C123.3 339.6 123.9 337.7 124.5 335.8 C125.1 333.8 125.7 331.9 126.3 330.0 C126.9 328.1 127.5 326.2 128.2 324.2 C128.8 322.3 129.4 320.4 130.1 318.5 C130.7 316.6 131.4 314.7 132.1 312.8 C132.7 310.9 133.4 309.0 134.1 307.1 C134.8 305.2 135.5 303.3 136.2 301.4 C136.9 299.5 137.7 297.6 138.4 295.7 C139.1 293.8 139.9 291.9 140.6 290.0 C141.4 288.1 142.2 286.2 142.9 284.4 C143.7 282.5 144.5 280.6 145.3 278.8 C146.1 276.9 146.9 275.0 147.7 273.2 C148.5 271.3 149.4 269.5 150.2 267.6 C151.1 265.8 151.9 263.9 152.8 262.1 C153.7 260.2 154.5 258.4 155.4 256.6 C156.3 254.8 157.2 252.9 158.1 251.1 C159.0 249.3 160.0 247.5 160.9 245.7 C161.8 243.9 162.8 242.1 163.7 240.3 C164.7 238.6 165.6 236.8 166.6 235.0 C167.6 233.2 168.6 231.5 169.6 229.7 C170.6 228.0 171.6 226.2 172.6 224.5 C173.7 222.7 174.7 221.0 175.8 219.3 C176.8 217.6 177.9 215.9 178.9 214.2 C180.0 212.5 181.1 210.8 182.2 209.1 C183.3 207.4 184.4 205.7 185.5 204.1 C186.6 202.4 187.8 200.7 188.9 199.1 C190.1 197.5 191.2 195.8 192.4 194.2 C193.6 192.6 194.7 191.0 195.9 189.4 C197.1 187.8 198.3 186.2 199.5 184.6 C200.8 183.0 202.0 181.5 203.2 179.9 C204.5 178.4 205.7 176.8 207.0 175.3 C208.3 173.8 209.5 172.2 210.8 170.7 C212.1 169.2 213.4 167.7 214.7 166.3 C216.1 164.8 217.4 163.3 218.7 161.9 C220.1 160.4 221.4 159.0 222.8 157.6 C224.2 156.1 225.5 154.7 226.9 153.3 C228.3 151.9 229.7 150.6 231.1 149.2 C232.6 147.8 234.0 146.5 235.4 145.1 C236.9 143.8 238.3 142.5 239.8 141.2 C241.3 139.9 242.8 138.6 244.3 137.3 C245.8 136.0 247.3 134.8 248.8 133.6 C250.3 132.3 251.8 131.1 253.4 129.9 C254.9 128.7 256.5 127.5 258.1 126.3 C259.6 125.1 261.2 124.0 262.8 122.8 C264.4 121.7 266.0 120.6 267.7 119.5 C269.3 118.4 270.9 117.3 272.6 116.2 C274.2 115.2 275.9 114.1 277.6 113.1 C279.3 112.0 281.0 111.0 282.7 110.0 C284.4 109.0 286.1 108.1 287.8 107.1 C289.5 106.1 291.3 105.2 293.0 104.3 C294.8 103.3 296.5 102.4 298.3 101.5 C300.1 100.6 301.9 99.7 303.6 98.9 C305.4 98.0 307.2 97.2 309.1 96.3 C310.9 95.5 312.7 94.7 314.5 93.9 C316.3 93.1 318.2 92.3 320.0 91.5 C321.9 90.8 323.7 90.0 325.6 89.3 C327.5 88.5 329.3 87.8 331.2 87.1 C333.1 86.4 335.0 85.7 336.9 85.0 C338.8 84.4 340.7 83.7 342.6 83.0 C344.5 82.4 346.4 81.8 348.3 81.1 C350.2 80.5 352.2 79.9 354.1 79.3 C356.0 78.7 358.0 78.2 359.9 77.6 C361.9 77.0 363.8 76.5 365.8 75.9 C367.7 75.4 369.7 74.9 371.6 74.4 C373.6 73.8 375.6 73.3 377.5 72.9 C379.5 72.4 381.5 71.9 383.5 71.4 C385.4 71.0 387.4 70.5 389.4 70.1 C391.4 69.7 393.4 69.2 395.4 68.8 C397.4 68.4 399.4 68.0 401.3 67.6 C403.3 67.2 405.3 66.8 407.3 66.5 C409.3 66.1 411.3 65.8 413.3 65.4 C415.3 65.1 417.3 64.7 419.3 64.4 C421.3 64.1 423.3 63.8 425.3 63.5 C427.3 63.2 429.3 62.9 431.3 62.6 C433.3 62.4 435.3 62.1 437.3 61.8 C439.3 61.6 441.4 61.3 443.4 61.1 C445.4 60.9 447.4 60.6 449.4 60.4 C451.4 60.2 453.4 60.0 455.4 59.8 C457.4 59.6 459.4 59.4 461.4 59.2 C463.4 59.0 465.4 58.9 467.5 58.7 C469.5 58.5 471.5 58.4 473.5 58.3 C475.5 58.1 477.5 58.0 479.5 57.8 C481.5 57.7 483.6 57.6 485.6 57.5 C487.6 57.4 489.6 57.3 491.6 57.2 C493.6 57.1 495.6 57.0 497.7 56.9 C499.7 56.9 501.7 56.8 503.7 56.7 C505.7 56.7 507.7 56.6 509.7 56.6 C511.8 56.5 513.8 56.5 515.8 56.5 C517.8 56.4 519.8 56.4 521.8 56.4 C523.9 56.4 525.9 56.4 527.9 56.4 C529.9 56.4 531.9 56.4 534.0 56.4 C536.0 56.4 538.0 56.4 540.0 56.4 C542.0 56.4 544.0 56.5 546.1 56.5 C548.1 56.5 550.1 56.6 552.1 56.6 C554.1 56.7 556.1 56.7 558.2 56.8 C560.2 56.8 562.2 56.9 564.2 57.0 C566.2 57.0 568.3 57.1 570.3 57.2 C572.3 57.3 574.3 57.4 576.3 57.4 C578.3 57.5 580.4 57.6 582.4 57.7 C584.4 57.8 586.4 57.9 588.4 58.0 C590.4 58.1 592.5 58.3 594.5 58.4 C596.5 58.5 598.5 58.6 600.5 58.7 C602.5 58.9 604.6 59.0 606.6 59.1 C608.6 59.2 610.6 59.4 612.6 59.5 C614.6 59.7 616.6 59.8 618.7 59.9 C620.7 60.1 622.7 60.2 624.7 60.4 C626.7 60.5 628.7 60.7 630.7 60.8 C632.8 61.0 634.8 61.2 636.8 61.3 C638.8 61.5 640.8 61.6 642.8 61.8 C644.8 62.0 646.8 62.1 648.8 62.3 C650.8 62.5 652.9 62.7 654.9 62.8 C656.9 63.0 658.9 63.2 660.9 63.4 C662.9 63.5 664.9 63.7 666.9 63.9 C668.9 64.1 670.9 64.3 672.9 64.4 C674.9 64.6 676.9 64.8 678.9 65.0 C680.9 65.2 682.9 65.4 684.9 65.6 C686.9 65.7 688.9 65.9 690.9 66.1 C692.9 66.3 694.9 66.5 696.9 66.7 C698.9 66.9 700.9 67.1 702.9 67.3 C704.9 67.5 706.9 67.7 708.9 67.9 C710.9 68.1 712.9 68.3 714.9 68.5 C716.9 68.7 718.9 68.9 720.9 69.1 C722.9 69.3 724.9 69.5 726.9 69.7 C728.8 69.9 730.8 70.2 732.8 70.4 C734.8 70.6 736.8 70.8 738.8 71.0 C740.8 71.2 742.8 71.5 744.8 71.7 C746.8 71.9 748.7 72.1 750.7 72.4 C752.7 72.6 754.7 72.8 756.7 73.0 C758.7 73.3 760.7 73.5 762.7 73.7 C764.6 74.0 766.6 74.2 768.6 74.5 C770.6 74.7 772.6 74.9 774.6 75.2 C776.5 75.4 778.5 75.7 780.5 75.9 C782.5 76.2 784.5 76.4 786.5 76.7 C788.4 76.9 790.4 77.2 792.4 77.4 C794.4 77.7 796.4 78.0 798.3 78.2 C800.3 78.5 802.3 78.8 804.3 79.0 C806.3 79.3 808.2 79.6 810.2 79.8 C812.2 80.1 814.2 80.4 816.1 80.7 C818.1 80.9 820.1 81.2 822.1 81.5 C824.1 81.8 826.0 82.1 828.0 82.4 C830.0 82.6 832.0 82.9 833.9 83.2 C835.9 83.5 837.9 83.8 839.8 84.1 C841.8 84.4 843.8 84.7 845.8 85.0 C847.7 85.3 849.7 85.6 851.7 86.0 C853.7 86.3 855.6 86.6 857.6 86.9 C859.6 87.2 861.5 87.5 863.5 87.9 C865.5 88.2 867.4 88.5 869.4 88.9 C871.4 89.2 873.4 89.5 875.3 89.9 C877.3 90.2 879.3 90.5 881.2 90.9 C883.2 91.2 885.2 91.6 887.1 91.9 C889.1 92.3 891.1 92.6 893.0 93.0 C895.0 93.3 897.0 93.7 898.9 94.0 C900.9 94.4 902.9 94.8 904.8 95.1 C906.8 95.5 908.8 95.9 910.7 96.3 C912.7 96.6 914.7 97.0 916.6 97.4 C918.6 97.8 920.5 98.2 922.5 98.6 C924.5 99.0 926.4 99.4 928.4 99.8 C930.4 100.2 932.3 100.6 934.3 101.0 C936.3 101.4 938.2 101.8 940.2 102.2 C942.1 102.6 944.1 103.0 946.1 103.4 C948.0 103.9 950.0 104.3 951.9 104.7 C953.9 105.1 955.9 105.6 957.8 106.0 C959.8 106.5 961.7 106.9 963.7 107.3 C965.7 107.8 967.6 108.2 969.6 108.7 C971.5 109.1 973.5 109.6 975.5 110.0 C977.4 110.5 979.4 111.0 981.3 111.4 C983.3 111.9 985.3 112.4 987.2 112.8 C989.2 113.3 991.1 113.8 993.1 114.3 C995.1 114.7 997.0 115.2 999.0 115.7 C1000.9 116.2 1002.9 116.7 1004.8 117.1 C1006.8 117.6 1008.8 118.1 1010.7 118.6 C1012.7 119.1 1014.6 119.6 1016.6 120.1 C1018.5 120.6 1020.5 121.1 1022.5 121.6 C1024.4 122.1 1026.4 122.6 1028.3 123.1 C1030.3 123.6 1032.2 124.1 1034.2 124.6 C1036.1 125.1 1038.1 125.6 1040.1 126.1 C1042.0 126.6 1044.0 127.1 1045.9 127.6 C1047.9 128.1 1049.8 128.6 1051.8 129.1 C1053.7 129.6 1055.7 130.1 1057.6 130.6 C1059.6 131.1 1061.6 131.6 1063.5 132.1 C1065.5 132.6 1067.4 133.1 1069.4 133.7 C1071.3 134.2 1073.3 134.7 1075.2 135.2 C1077.2 135.7 1079.1 136.2 1081.1 136.7 C1083.0 137.2 1085.0 137.7 1087.0 138.2 C1088.9 138.7 1090.9 139.2 1092.8 139.7 C1094.8 140.2 1096.7 140.7 1098.7 141.2 C1100.6 141.7 1102.6 142.2 1104.5 142.7 C1106.5 143.2 1108.4 143.7 1110.4 144.2 C1112.3 144.7 1114.3 145.2 1116.2 145.6 C1118.2 146.1 1120.2 146.6 1122.1 147.1 C1124.1 147.6 1126.0 148.1 1128.0 148.6 C1129.9 149.0 1131.9 149.5 1133.8 150.0 C1135.8 150.5 1137.7 150.9 1139.7 151.4 C1141.6 151.9 1143.6 152.3 1145.5 152.8 C1147.5 153.3 1149.4 153.7 1151.4 154.2 C1153.3 154.6 1155.3 155.1 1157.2 155.5 C1159.2 156.0 1161.1 156.4 1163.1 156.9 C1165.0 157.3 1167.0 157.7 1168.9 158.2 C1170.9 158.6 1172.8 159.0 1174.8 159.5 C1176.8 159.9 1178.7 160.3 1180.7 160.7 C1182.6 161.1 1185.5 161.8 1186.5 162.0" fill="none" stroke="#7a1f80" stroke-width="3.3" stroke-linejoin="round" stroke-linecap="round" />
<text transform="translate(862.0,76.5) scale(1,1.060) rotate(10.39)" font-size="28.8" fill="#7a1f80">Fyfe, 1978</text>
<text transform="translate(523.0,151.0) scale(1,1.060)" font-size="28.0" fill="#7a1f80">Armstrong, 1981</text>
<text transform="translate(426.3,301.5) scale(1,1.060) rotate(-26.45)" font-size="31.5" fill="#2a9a50">Pujol et al., 2013</text>
<text transform="translate(146.5,564.5) scale(1,1.060) rotate(-51.89)" font-size="27.5" fill="#2a9a50">Campbell, 2003</text>
<text transform="translate(226.0,522.0) scale(1,1.060) rotate(-35.41)" font-size="27.5" fill="#2b3a9a">Dhuime et al. 2012</text>
<text transform="translate(368.0,472.0) scale(1,1.060) rotate(-27.61)" font-size="27.5" fill="#2b3a9a">Belousova et al., 2010</text>
<text transform="translate(754.5,335.5) scale(1,1.060) rotate(-22.78)" font-size="27.5" fill="#2b3a9a">Roberts &amp; Spencer, 2015</text>
<text transform="translate(519.0,535.0) scale(1,1.060) rotate(-34.92)" font-size="27.8" fill="#b8232e">Condie &amp; Aster, 2010</text>
<text transform="translate(552.0,621.5) scale(1,1.060) rotate(-40.64)" font-size="27.9" fill="#b8232e">Allègre &amp; Rousseau, 1984</text>
<text transform="translate(930.0,485.7) scale(1,1.060) rotate(-44.33)" font-size="27.2" fill="#1e1e2a">Artemieva, 2006</text>
<g transform="translate(684,629) scale(1,1.06) rotate(-16.6)" font-size="27.5" fill="#1e1e2a"><text x="0" y="0">Goodwin 1996</text><text x="4.2" y="33.4">present day surface</text><text x="5.2" y="63.6">ages distribution</text></g>
<text transform="translate(1379.5,33.0)" font-size="41.5" fill="#000" font-weight="bold">B</text>
<rect x="1506" y="5.2" width="982" height="46.3" fill="#000"/>
<rect x="1659.2" y="8.5" width="284.4" height="38.6" fill="#6d6e71"/>
<rect x="1946.8" y="8.5" width="422.4" height="38.6" fill="#9d9ea0"/>
<rect x="2369.2" y="8.5" width="115.4" height="38.6" fill="#fff"/>
<rect x="2371.9" y="11.2" width="112.3" height="36.4" fill="#d8d9da"/>
<rect x="1656.8" y="8.5" width="2.4" height="38.6" fill="#fff"/>
<rect x="1943.6" y="8.5" width="3.2" height="38.6" fill="#fff"/>
<path d="M1509.6 9.5 V47.6 H2484.5" fill="none" stroke="#8a8a8a" stroke-width="1.2"/>
<text transform="translate(1587.5,40.3) scale(1,1.040)" font-size="30.5" fill="#fff" text-anchor="middle">Hadean</text>
<text transform="translate(1807.8,40.3) scale(1,1.040)" font-size="30.5" fill="#fff" text-anchor="middle">Archaean</text>
<text transform="translate(2161.3,40.3) scale(1,1.040)" font-size="30.5" fill="#fff" text-anchor="middle">Proterozoic</text>
<text transform="translate(2428.8,40.0) scale(1,1.040)" font-size="30.5" fill="#000" text-anchor="middle">Phan.</text>
<path d="M1508 50 V711 H2486 V50" fill="none" stroke="#000" stroke-width="3"/>
<path d="M1495 711.0 H1508" stroke="#000" stroke-width="2.8"/>
<text transform="translate(1482.5,713.6) scale(1,1.040)" font-size="32.0" fill="#000" text-anchor="end">0</text>
<path d="M1495 558.0 H1508" stroke="#000" stroke-width="2.8"/>
<text transform="translate(1487.5,567.9) scale(1,1.040)" font-size="32.0" fill="#000" text-anchor="end">25</text>
<path d="M1495 405.0 H1508" stroke="#000" stroke-width="2.8"/>
<text transform="translate(1488.0,411.4) scale(1,1.040)" font-size="32.0" fill="#000" text-anchor="end">50</text>
<path d="M1495 252.0 H1508" stroke="#000" stroke-width="2.8"/>
<text transform="translate(1487.5,261.6) scale(1,1.040)" font-size="32.0" fill="#000" text-anchor="end">75</text>
<path d="M1495 99.0 H1508" stroke="#000" stroke-width="2.8"/>
<text transform="translate(1491.0,107.7) scale(1,1.040)" font-size="32.0" fill="#000" text-anchor="end">100</text>
<path d="M1516.7 711 V718.5" stroke="#000" stroke-width="2.8"/>
<path d="M1624.4 711 V724.0" stroke="#000" stroke-width="2.8"/>
<text transform="translate(1624.4,762.0) scale(1,1.040)" font-size="31.0" fill="#000" text-anchor="middle">4</text>
<path d="M1732.1 711 V718.5" stroke="#000" stroke-width="2.8"/>
<path d="M1839.8 711 V724.0" stroke="#000" stroke-width="2.8"/>
<text transform="translate(1842.8,762.0) scale(1,1.040)" font-size="31.0" fill="#000" text-anchor="middle">3</text>
<path d="M1947.5 711 V718.5" stroke="#000" stroke-width="2.8"/>
<path d="M2055.2 711 V724.0" stroke="#000" stroke-width="2.8"/>
<text transform="translate(2055.2,762.0) scale(1,1.040)" font-size="31.0" fill="#000" text-anchor="middle">2</text>
<path d="M2162.9 711 V718.5" stroke="#000" stroke-width="2.8"/>
<path d="M2270.6 711 V724.0" stroke="#000" stroke-width="2.8"/>
<text transform="translate(2270.6,762.0) scale(1,1.040)" font-size="31.0" fill="#000" text-anchor="middle">1</text>
<path d="M2378.3 711 V718.5" stroke="#000" stroke-width="2.8"/>
<path d="M2486.0 711 V724.0" stroke="#000" stroke-width="2.8"/>
<text transform="translate(2486.0,762.0) scale(1,1.040)" font-size="31.0" fill="#000" text-anchor="middle">0</text>
<text transform="translate(1763.0,811.0) scale(1,1.040)" font-size="40.0" fill="#000">Time since present (Ga)</text>
<text transform="translate(1411.5,636) rotate(-90)" font-size="40.5" fill="#000">Volume of continental crust (%)</text>
<path d="M1530 65.8 H1806" stroke="#000" stroke-width="4.8"/>
<path d="M1517 66 L1544 54.8 L1540 66 L1544 77.5 Z" fill="#000"/>
<path d="M1818.2 66 L1791.3 54.8 L1795.3 66 L1791.3 77.5 Z" fill="#000"/>
<path d="M1851.9 66 H1853 M1856.2 66 H1862.5 M1866.1 66 H1872.9 M1876.1 66 H1882.7 M1886.1 66 H1893" stroke="#000" stroke-width="4.6"/>
<path d="M1896.1 65.8 H2445" stroke="#000" stroke-width="4.8"/>
<path d="M2462.4 66 L2435.5 54.8 L2439.5 66 L2435.5 77.5 Z" fill="#000"/>
<path d="M1566.4 709.3 C1567.3 708.7 1570.0 707.0 1571.8 705.8 C1573.5 704.5 1575.2 703.3 1576.9 702.0 C1578.6 700.8 1580.2 699.5 1581.8 698.2 C1583.4 696.9 1585.0 695.5 1586.6 694.2 C1588.1 692.9 1589.7 691.5 1591.1 690.1 C1592.6 688.7 1594.1 687.3 1595.5 685.9 C1597.0 684.4 1598.4 683.0 1599.7 681.5 C1601.1 680.0 1602.5 678.6 1603.8 677.1 C1605.1 675.5 1606.4 674.0 1607.7 672.5 C1609.0 670.9 1610.2 669.4 1611.4 667.8 C1612.6 666.3 1613.8 664.7 1615.0 663.1 C1616.2 661.5 1617.3 659.8 1618.5 658.2 C1619.6 656.6 1620.7 654.9 1621.8 653.3 C1622.9 651.6 1623.9 649.9 1625.0 648.2 C1626.0 646.6 1627.0 644.8 1628.1 643.1 C1629.1 641.4 1630.0 639.7 1631.0 638.0 C1632.0 636.2 1632.9 634.5 1633.9 632.7 C1634.8 631.0 1635.7 629.2 1636.6 627.4 C1637.5 625.6 1638.4 623.8 1639.3 622.0 C1640.1 620.2 1641.0 618.4 1641.8 616.6 C1642.7 614.8 1643.5 613.0 1644.3 611.1 C1645.1 609.3 1645.9 607.5 1646.7 605.6 C1647.5 603.8 1648.3 601.9 1649.1 600.1 C1649.8 598.2 1650.6 596.4 1651.3 594.5 C1652.1 592.6 1652.8 590.7 1653.6 588.9 C1654.3 587.0 1655.0 585.1 1655.7 583.2 C1656.4 581.3 1657.2 579.4 1657.9 577.5 C1658.6 575.7 1659.3 573.8 1659.9 571.9 C1660.6 570.0 1661.3 568.1 1662.0 566.2 C1662.7 564.3 1663.4 562.4 1664.0 560.5 C1664.7 558.6 1665.4 556.6 1666.0 554.7 C1666.7 552.8 1667.4 550.9 1668.0 549.0 C1668.7 547.1 1669.4 545.2 1670.0 543.3 C1670.7 541.4 1671.3 539.5 1672.0 537.6 C1672.6 535.7 1673.3 533.8 1673.9 531.9 C1674.6 530.0 1675.2 528.1 1675.9 526.2 C1676.5 524.3 1677.2 522.3 1677.8 520.4 C1678.4 518.5 1679.1 516.6 1679.7 514.7 C1680.4 512.8 1681.0 510.9 1681.6 509.0 C1682.3 507.1 1682.9 505.2 1683.5 503.2 C1684.2 501.3 1684.8 499.4 1685.4 497.5 C1686.1 495.6 1686.7 493.7 1687.3 491.8 C1688.0 489.9 1688.6 487.9 1689.2 486.0 C1689.9 484.1 1690.5 482.2 1691.1 480.3 C1691.8 478.4 1692.4 476.5 1693.0 474.5 C1693.7 472.6 1694.3 470.7 1694.9 468.8 C1695.6 466.9 1696.2 465.0 1696.8 463.0 C1697.5 461.1 1698.1 459.2 1698.8 457.3 C1699.4 455.4 1700.0 453.4 1700.7 451.5 C1701.3 449.6 1702.0 447.7 1702.6 445.8 C1703.2 443.9 1703.9 441.9 1704.5 440.0 C1705.2 438.1 1705.8 436.2 1706.5 434.3 C1707.1 432.3 1707.8 430.4 1708.4 428.5 C1709.1 426.6 1709.7 424.6 1710.4 422.7 C1711.1 420.8 1711.7 418.9 1712.4 417.0 C1713.1 415.0 1713.7 413.1 1714.4 411.2 C1715.1 409.3 1715.7 407.3 1716.4 405.4 C1717.1 403.5 1717.8 401.6 1718.5 399.6 C1719.2 397.7 1719.8 395.8 1720.5 393.9 C1721.2 391.9 1721.9 390.0 1722.6 388.1 C1723.3 386.2 1724.0 384.3 1724.8 382.4 C1725.5 380.4 1726.2 378.5 1726.9 376.6 C1727.6 374.7 1728.4 372.8 1729.1 370.9 C1729.8 369.0 1730.6 367.1 1731.3 365.2 C1732.1 363.3 1732.8 361.4 1733.6 359.5 C1734.4 357.6 1735.1 355.7 1735.9 353.8 C1736.7 351.9 1737.5 350.0 1738.3 348.2 C1739.1 346.3 1739.9 344.4 1740.7 342.5 C1741.5 340.7 1742.3 338.8 1743.1 337.0 C1744.0 335.1 1744.8 333.2 1745.6 331.4 C1746.5 329.6 1747.3 327.7 1748.2 325.9 C1749.1 324.0 1749.9 322.2 1750.8 320.4 C1751.7 318.6 1752.6 316.8 1753.5 315.0 C1754.4 313.1 1755.3 311.3 1756.2 309.5 C1757.2 307.8 1758.1 306.0 1759.0 304.2 C1760.0 302.4 1760.9 300.6 1761.9 298.9 C1762.9 297.1 1763.9 295.4 1764.9 293.6 C1765.9 291.9 1766.9 290.1 1767.9 288.4 C1768.9 286.7 1769.9 285.0 1771.0 283.3 C1772.0 281.6 1773.1 279.9 1774.2 278.2 C1775.2 276.5 1776.3 274.8 1777.4 273.1 C1778.5 271.5 1779.6 269.8 1780.8 268.2 C1781.9 266.5 1783.0 264.9 1784.2 263.3 C1785.4 261.6 1786.5 260.0 1787.7 258.4 C1788.9 256.8 1790.1 255.2 1791.3 253.6 C1792.5 252.1 1793.8 250.5 1795.0 249.0 C1796.3 247.4 1797.5 245.9 1798.8 244.3 C1800.1 242.8 1801.4 241.3 1802.7 239.8 C1804.0 238.3 1805.3 236.8 1806.7 235.3 C1808.0 233.8 1809.3 232.3 1810.7 230.9 C1812.1 229.4 1813.4 228.0 1814.8 226.5 C1816.2 225.1 1817.6 223.7 1819.0 222.3 C1820.4 220.9 1821.9 219.5 1823.3 218.1 C1824.7 216.7 1826.2 215.3 1827.7 214.0 C1829.1 212.6 1830.6 211.2 1832.1 209.9 C1833.6 208.6 1835.1 207.2 1836.6 205.9 C1838.1 204.6 1839.6 203.3 1841.2 202.0 C1842.7 200.7 1844.2 199.5 1845.8 198.2 C1847.3 196.9 1848.9 195.7 1850.5 194.4 C1852.1 193.2 1853.7 192.0 1855.3 190.7 C1856.9 189.5 1858.5 188.3 1860.1 187.1 C1861.7 185.9 1863.3 184.8 1865.0 183.6 C1866.6 182.4 1868.3 181.3 1869.9 180.1 C1871.6 179.0 1873.2 177.9 1874.9 176.7 C1876.6 175.6 1878.3 174.5 1880.0 173.4 C1881.7 172.3 1883.4 171.2 1885.1 170.2 C1886.8 169.1 1888.5 168.1 1890.2 167.0 C1892.0 166.0 1893.7 164.9 1895.5 163.9 C1897.2 162.9 1899.0 161.9 1900.7 160.9 C1902.5 159.9 1904.2 158.9 1906.0 158.0 C1907.8 157.0 1909.6 156.0 1911.4 155.1 C1913.2 154.2 1914.9 153.2 1916.8 152.3 C1918.6 151.4 1920.4 150.5 1922.2 149.6 C1924.0 148.7 1925.8 147.8 1927.6 147.0 C1929.5 146.1 1931.3 145.2 1933.1 144.4 C1935.0 143.6 1936.8 142.7 1938.7 141.9 C1940.5 141.1 1942.4 140.3 1944.3 139.5 C1946.1 138.7 1948.0 137.9 1949.9 137.2 C1951.7 136.4 1953.6 135.7 1955.5 134.9 C1957.4 134.2 1959.2 133.5 1961.1 132.8 C1963.0 132.0 1964.9 131.3 1966.8 130.7 C1968.7 130.0 1970.6 129.3 1972.5 128.6 C1974.4 128.0 1976.3 127.3 1978.2 126.7 C1980.1 126.1 1982.1 125.4 1984.0 124.8 C1985.9 124.2 1987.8 123.6 1989.7 123.0 C1991.7 122.5 1993.6 121.9 1995.5 121.3 C1997.4 120.8 1999.4 120.2 2001.3 119.7 C2003.2 119.2 2005.2 118.6 2007.1 118.1 C2009.1 117.6 2011.0 117.1 2012.9 116.6 C2014.9 116.2 2016.8 115.7 2018.8 115.2 C2020.7 114.8 2022.7 114.3 2024.6 113.9 C2026.6 113.4 2028.5 113.0 2030.5 112.6 C2032.5 112.2 2034.4 111.8 2036.4 111.4 C2038.3 111.0 2040.3 110.6 2042.3 110.3 C2044.2 109.9 2046.2 109.5 2048.2 109.2 C2050.2 108.8 2052.1 108.5 2054.1 108.1 C2056.1 107.8 2058.1 107.5 2060.0 107.2 C2062.0 106.9 2064.0 106.6 2066.0 106.3 C2068.0 106.0 2069.9 105.7 2071.9 105.4 C2073.9 105.2 2075.9 104.9 2077.9 104.7 C2079.9 104.4 2081.9 104.2 2083.9 103.9 C2085.9 103.7 2087.9 103.5 2089.9 103.2 C2091.9 103.0 2093.9 102.8 2095.9 102.6 C2097.9 102.4 2099.9 102.2 2101.9 102.0 C2103.9 101.8 2105.9 101.7 2107.9 101.5 C2109.9 101.3 2111.9 101.2 2113.9 101.0 C2115.9 100.8 2117.9 100.7 2120.0 100.6 C2122.0 100.4 2124.0 100.3 2126.0 100.2 C2128.0 100.0 2130.0 99.9 2132.1 99.8 C2134.1 99.7 2136.1 99.6 2138.1 99.5 C2140.1 99.4 2142.2 99.3 2144.2 99.2 C2146.2 99.1 2148.2 99.0 2150.2 99.0 C2152.3 98.9 2154.3 98.8 2156.3 98.8 C2158.4 98.7 2160.4 98.6 2162.4 98.6 C2164.4 98.5 2166.5 98.5 2168.5 98.4 C2170.5 98.4 2172.6 98.4 2174.6 98.3 C2176.6 98.3 2178.7 98.3 2180.7 98.2 C2182.7 98.2 2184.8 98.2 2186.8 98.2 C2188.8 98.2 2190.9 98.2 2192.9 98.2 C2195.0 98.2 2197.0 98.1 2199.0 98.2 C2201.1 98.2 2203.1 98.2 2205.1 98.2 C2207.2 98.2 2209.2 98.2 2211.3 98.2 C2213.3 98.2 2215.4 98.2 2217.4 98.3 C2219.4 98.3 2221.5 98.3 2223.5 98.3 C2225.6 98.4 2227.6 98.4 2229.6 98.4 C2231.7 98.5 2233.7 98.5 2235.8 98.5 C2237.8 98.6 2239.9 98.6 2241.9 98.7 C2243.9 98.7 2246.0 98.8 2248.0 98.8 C2250.1 98.8 2252.1 98.9 2254.2 98.9 C2256.2 99.0 2258.3 99.0 2260.3 99.1 C2262.3 99.2 2264.4 99.2 2266.4 99.3 C2268.5 99.3 2270.5 99.4 2272.6 99.4 C2274.6 99.5 2276.6 99.5 2278.7 99.6 C2280.7 99.7 2282.8 99.7 2284.8 99.8 C2286.9 99.8 2288.9 99.9 2290.9 99.9 C2293.0 100.0 2295.0 100.1 2297.1 100.1 C2299.1 100.2 2301.1 100.2 2303.2 100.3 C2305.2 100.3 2307.3 100.4 2309.3 100.4 C2311.3 100.5 2313.4 100.6 2315.4 100.6 C2317.5 100.7 2319.5 100.7 2321.5 100.8 C2323.6 100.8 2325.6 100.9 2327.6 100.9 C2329.7 101.0 2331.7 101.0 2333.7 101.0 C2335.8 101.1 2337.8 101.1 2339.8 101.2 C2341.9 101.2 2343.9 101.2 2345.9 101.3 C2348.0 101.3 2350.0 101.3 2352.0 101.4 C2354.1 101.4 2356.1 101.4 2358.1 101.5 C2360.1 101.5 2362.2 101.5 2364.2 101.5 C2366.2 101.5 2368.2 101.5 2370.3 101.6 C2372.3 101.6 2374.3 101.6 2376.3 101.6 C2378.3 101.6 2380.4 101.6 2382.4 101.6 C2384.4 101.6 2386.4 101.6 2388.4 101.6 C2390.4 101.5 2392.4 101.5 2394.5 101.5 C2396.5 101.5 2398.5 101.5 2400.5 101.4 C2402.5 101.4 2404.5 101.4 2406.5 101.3 C2408.5 101.3 2410.5 101.2 2412.5 101.2 C2414.5 101.1 2416.5 101.1 2418.5 101.0 C2420.5 100.9 2422.5 100.9 2424.5 100.8 C2426.5 100.7 2428.5 100.7 2430.5 100.6 C2432.5 100.5 2434.5 100.4 2436.5 100.3 C2438.5 100.2 2440.5 100.1 2442.4 100.0 C2444.4 99.9 2446.4 99.8 2448.4 99.6 C2450.4 99.5 2452.4 99.4 2454.3 99.2 C2456.3 99.1 2458.3 98.9 2460.3 98.8 C2462.2 98.6 2464.2 98.5 2466.2 98.3 C2468.1 98.1 2470.1 98.0 2472.1 97.8 C2474.0 97.6 2476.0 97.4 2478.0 97.2 C2479.9 97.0 2482.9 96.7 2483.8 96.6 L2484.0 98.3 C2483.0 98.4 2480.0 98.6 2478.0 98.8 C2476.0 98.9 2474.0 99.1 2472.0 99.3 C2470.0 99.4 2468.0 99.6 2466.0 99.7 C2464.0 99.9 2462.0 100.0 2460.0 100.2 C2458.0 100.4 2455.9 100.5 2453.9 100.7 C2451.9 100.8 2449.9 101.0 2447.9 101.2 C2445.9 101.3 2443.9 101.5 2441.9 101.7 C2439.9 101.8 2437.9 102.0 2435.9 102.1 C2433.8 102.3 2431.8 102.5 2429.8 102.7 C2427.8 102.8 2425.8 103.0 2423.8 103.2 C2421.8 103.3 2419.8 103.5 2417.8 103.7 C2415.7 103.9 2413.7 104.0 2411.7 104.2 C2409.7 104.4 2407.7 104.6 2405.7 104.8 C2403.7 104.9 2401.6 105.1 2399.6 105.3 C2397.6 105.5 2395.6 105.7 2393.6 105.9 C2391.6 106.1 2389.6 106.3 2387.5 106.5 C2385.5 106.7 2383.5 106.9 2381.5 107.1 C2379.5 107.3 2377.5 107.5 2375.5 107.7 C2373.4 107.9 2371.4 108.1 2369.4 108.3 C2367.4 108.5 2365.4 108.7 2363.4 108.9 C2361.4 109.2 2359.3 109.4 2357.3 109.6 C2355.3 109.8 2353.3 110.0 2351.3 110.3 C2349.3 110.5 2347.3 110.7 2345.3 111.0 C2343.3 111.2 2341.2 111.5 2339.2 111.7 C2337.2 111.9 2335.2 112.2 2333.2 112.4 C2331.2 112.7 2329.2 112.9 2327.2 113.2 C2325.2 113.5 2323.2 113.7 2321.2 114.0 C2319.2 114.3 2317.2 114.5 2315.1 114.8 C2313.1 115.1 2311.1 115.4 2309.1 115.6 C2307.1 115.9 2305.1 116.2 2303.1 116.5 C2301.1 116.8 2299.1 117.1 2297.1 117.4 C2295.1 117.7 2293.1 118.0 2291.1 118.3 C2289.1 118.6 2287.1 118.9 2285.2 119.3 C2283.2 119.6 2281.2 119.9 2279.2 120.2 C2277.2 120.6 2275.2 120.9 2273.2 121.3 C2271.2 121.6 2269.2 121.9 2267.2 122.3 C2265.2 122.6 2263.3 123.0 2261.3 123.4 C2259.3 123.7 2257.3 124.1 2255.3 124.5 C2253.3 124.8 2251.4 125.2 2249.4 125.6 C2247.4 126.0 2245.4 126.4 2243.5 126.8 C2241.5 127.2 2239.5 127.6 2237.5 128.0 C2235.6 128.4 2233.6 128.8 2231.6 129.2 C2229.7 129.7 2227.7 130.1 2225.7 130.5 C2223.8 131.0 2221.8 131.4 2219.8 131.8 C2217.9 132.3 2215.9 132.7 2214.0 133.2 C2212.0 133.7 2210.0 134.1 2208.1 134.6 C2206.1 135.1 2204.2 135.6 2202.2 136.0 C2200.3 136.5 2198.3 137.0 2196.4 137.5 C2194.4 138.0 2192.5 138.5 2190.6 139.1 C2188.6 139.6 2186.7 140.1 2184.7 140.6 C2182.8 141.2 2180.9 141.7 2178.9 142.3 C2177.0 142.8 2175.1 143.4 2173.1 143.9 C2171.2 144.5 2169.3 145.0 2167.4 145.6 C2165.4 146.2 2163.5 146.8 2161.6 147.4 C2159.7 148.0 2157.8 148.6 2155.9 149.2 C2153.9 149.8 2152.0 150.4 2150.1 151.0 C2148.2 151.7 2146.3 152.3 2144.4 152.9 C2142.5 153.6 2140.6 154.2 2138.7 154.9 C2136.8 155.6 2134.9 156.2 2133.0 156.9 C2131.1 157.6 2129.2 158.3 2127.4 159.0 C2125.5 159.7 2123.6 160.4 2121.7 161.1 C2119.8 161.8 2118.0 162.5 2116.1 163.2 C2114.2 164.0 2112.3 164.7 2110.5 165.5 C2108.6 166.2 2106.7 167.0 2104.9 167.7 C2103.0 168.5 2101.2 169.3 2099.3 170.1 C2097.4 170.9 2095.6 171.7 2093.7 172.5 C2091.9 173.3 2090.0 174.1 2088.2 174.9 C2086.4 175.7 2084.5 176.5 2082.7 177.4 C2080.9 178.2 2079.0 179.1 2077.2 179.9 C2075.4 180.8 2073.5 181.6 2071.7 182.5 C2069.9 183.4 2068.1 184.2 2066.3 185.1 C2064.5 186.0 2062.6 186.9 2060.8 187.8 C2059.0 188.7 2057.2 189.6 2055.4 190.6 C2053.6 191.5 2051.8 192.4 2050.0 193.3 C2048.3 194.3 2046.5 195.2 2044.7 196.2 C2042.9 197.1 2041.1 198.1 2039.4 199.1 C2037.6 200.0 2035.8 201.0 2034.0 202.0 C2032.3 203.0 2030.5 204.0 2028.8 205.0 C2027.0 206.0 2025.2 207.0 2023.5 208.0 C2021.7 209.0 2020.0 210.0 2018.3 211.1 C2016.5 212.1 2014.8 213.1 2013.0 214.2 C2011.3 215.2 2009.6 216.3 2007.9 217.4 C2006.1 218.4 2004.4 219.5 2002.7 220.6 C2001.0 221.6 1999.3 222.7 1997.6 223.8 C1995.9 224.9 1994.2 226.0 1992.5 227.1 C1990.8 228.2 1989.1 229.3 1987.4 230.5 C1985.7 231.6 1984.0 232.7 1982.4 233.8 C1980.7 235.0 1979.0 236.1 1977.3 237.3 C1975.7 238.4 1974.0 239.6 1972.4 240.8 C1970.7 241.9 1969.0 243.1 1967.4 244.3 C1965.8 245.5 1964.1 246.6 1962.5 247.8 C1960.8 249.0 1959.2 250.2 1957.6 251.4 C1956.0 252.6 1954.3 253.8 1952.7 255.1 C1951.1 256.3 1949.5 257.5 1947.9 258.8 C1946.3 260.0 1944.7 261.2 1943.1 262.5 C1941.5 263.7 1939.9 265.0 1938.3 266.2 C1936.8 267.5 1935.2 268.8 1933.6 270.0 C1932.0 271.3 1930.5 272.6 1928.9 273.9 C1927.3 275.2 1925.8 276.5 1924.2 277.8 C1922.7 279.1 1921.2 280.4 1919.6 281.7 C1918.1 283.0 1916.6 284.3 1915.0 285.6 C1913.5 287.0 1912.0 288.3 1910.5 289.6 C1909.0 291.0 1907.4 292.3 1905.9 293.6 C1904.4 295.0 1903.0 296.4 1901.5 297.7 C1900.0 299.1 1898.5 300.4 1897.0 301.8 C1895.5 303.2 1894.1 304.6 1892.6 306.0 C1891.1 307.3 1889.7 308.7 1888.2 310.1 C1886.8 311.5 1885.3 312.9 1883.9 314.3 C1882.5 315.7 1881.0 317.2 1879.6 318.6 C1878.2 320.0 1876.8 321.4 1875.3 322.9 C1873.9 324.3 1872.5 325.7 1871.1 327.2 C1869.7 328.6 1868.3 330.1 1866.9 331.5 C1865.6 333.0 1864.2 334.4 1862.8 335.9 C1861.4 337.3 1860.1 338.8 1858.7 340.3 C1857.3 341.8 1856.0 343.2 1854.6 344.7 C1853.3 346.2 1851.9 347.7 1850.6 349.2 C1849.3 350.7 1847.9 352.2 1846.6 353.7 C1845.3 355.2 1844.0 356.7 1842.6 358.2 C1841.3 359.7 1840.0 361.3 1838.7 362.8 C1837.4 364.3 1836.1 365.8 1834.8 367.4 C1833.5 368.9 1832.2 370.5 1831.0 372.0 C1829.7 373.6 1828.4 375.1 1827.1 376.7 C1825.9 378.2 1824.6 379.8 1823.4 381.3 C1822.1 382.9 1820.8 384.5 1819.6 386.0 C1818.3 387.6 1817.1 389.2 1815.9 390.8 C1814.6 392.4 1813.4 393.9 1812.2 395.5 C1811.0 397.1 1809.7 398.7 1808.5 400.3 C1807.3 401.9 1806.1 403.5 1804.9 405.1 C1803.7 406.8 1802.5 408.4 1801.3 410.0 C1800.1 411.6 1798.9 413.2 1797.7 414.9 C1796.5 416.5 1795.4 418.1 1794.2 419.7 C1793.0 421.4 1791.8 423.0 1790.7 424.7 C1789.5 426.3 1788.3 428.0 1787.2 429.6 C1786.0 431.3 1784.9 432.9 1783.7 434.6 C1782.6 436.2 1781.5 437.9 1780.3 439.6 C1779.2 441.2 1778.0 442.9 1776.9 444.6 C1775.8 446.2 1774.7 447.9 1773.5 449.6 C1772.4 451.3 1771.3 453.0 1770.2 454.7 C1769.1 456.4 1768.0 458.0 1766.9 459.7 C1765.8 461.4 1764.7 463.1 1763.6 464.8 C1762.5 466.5 1761.4 468.3 1760.3 470.0 C1759.3 471.7 1758.2 473.4 1757.1 475.1 C1756.0 476.8 1754.9 478.5 1753.9 480.3 C1752.8 482.0 1751.7 483.7 1750.7 485.5 C1749.6 487.2 1748.6 488.9 1747.5 490.7 C1746.5 492.4 1745.4 494.1 1744.4 495.9 C1743.3 497.6 1742.3 499.4 1741.3 501.1 C1740.2 502.9 1739.2 504.6 1738.2 506.4 C1737.1 508.1 1736.1 509.9 1735.1 511.7 C1734.1 513.4 1733.0 515.2 1732.0 516.9 C1731.0 518.7 1730.0 520.5 1729.0 522.3 C1728.0 524.0 1727.0 525.8 1726.0 527.6 C1725.0 529.4 1724.0 531.1 1723.0 532.9 C1722.0 534.7 1721.0 536.5 1720.0 538.3 C1719.0 540.0 1718.0 541.8 1717.0 543.6 C1716.0 545.4 1715.0 547.2 1714.0 548.9 C1713.0 550.7 1712.0 552.5 1711.0 554.3 C1710.0 556.0 1709.0 557.8 1708.0 559.6 C1707.0 561.4 1706.0 563.1 1705.0 564.9 C1704.0 566.7 1703.0 568.4 1702.0 570.2 C1701.0 572.0 1700.0 573.7 1698.9 575.5 C1697.9 577.2 1696.9 579.0 1695.9 580.7 C1694.8 582.5 1693.8 584.2 1692.8 585.9 C1691.7 587.7 1690.7 589.4 1689.7 591.1 C1688.6 592.9 1687.6 594.6 1686.5 596.3 C1685.4 598.0 1684.4 599.7 1683.3 601.4 C1682.2 603.1 1681.1 604.8 1680.1 606.5 C1679.0 608.2 1677.9 609.8 1676.8 611.5 C1675.7 613.2 1674.6 614.8 1673.4 616.5 C1672.3 618.1 1671.2 619.8 1670.0 621.4 C1668.9 623.0 1667.8 624.7 1666.6 626.3 C1665.4 627.9 1664.3 629.5 1663.1 631.1 C1661.9 632.7 1660.7 634.3 1659.5 635.8 C1658.3 637.4 1657.1 639.0 1655.9 640.5 C1654.6 642.0 1653.4 643.6 1652.1 645.1 C1650.9 646.6 1649.6 648.1 1648.3 649.6 C1647.1 651.1 1645.8 652.6 1644.4 654.1 C1643.1 655.5 1641.8 657.0 1640.5 658.4 C1639.1 659.9 1637.8 661.3 1636.4 662.7 C1635.0 664.1 1633.7 665.5 1632.3 666.9 C1630.9 668.3 1629.4 669.6 1628.0 671.0 C1626.6 672.3 1625.1 673.6 1623.6 675.0 C1622.2 676.3 1620.7 677.6 1619.2 678.8 C1617.7 680.1 1616.1 681.4 1614.6 682.6 C1613.1 683.9 1611.5 685.1 1609.9 686.3 C1608.3 687.5 1606.7 688.7 1605.1 689.9 C1603.5 691.0 1601.8 692.2 1600.2 693.3 C1598.5 694.4 1596.8 695.5 1595.1 696.6 C1593.4 697.7 1591.7 698.8 1589.9 699.8 C1588.2 700.9 1586.4 701.9 1584.6 702.9 C1582.8 703.9 1581.0 704.9 1579.1 705.8 C1577.3 706.8 1575.4 707.7 1573.5 708.6 C1571.7 709.5 1568.8 710.8 1567.8 711.3 Z" fill="#efefef" stroke="none"/>
<rect x="1830.6" y="51.5" width="23" height="658" fill="#87888a"/>
<path d="M1566.4 709.3 C1567.3 708.7 1570.0 707.0 1571.8 705.8 C1573.5 704.5 1575.2 703.3 1576.9 702.0 C1578.6 700.8 1580.2 699.5 1581.8 698.2 C1583.4 696.9 1585.0 695.5 1586.6 694.2 C1588.1 692.9 1589.7 691.5 1591.1 690.1 C1592.6 688.7 1594.1 687.3 1595.5 685.9 C1597.0 684.4 1598.4 683.0 1599.7 681.5 C1601.1 680.0 1602.5 678.6 1603.8 677.1 C1605.1 675.5 1606.4 674.0 1607.7 672.5 C1609.0 670.9 1610.2 669.4 1611.4 667.8 C1612.6 666.3 1613.8 664.7 1615.0 663.1 C1616.2 661.5 1617.3 659.8 1618.5 658.2 C1619.6 656.6 1620.7 654.9 1621.8 653.3 C1622.9 651.6 1623.9 649.9 1625.0 648.2 C1626.0 646.6 1627.0 644.8 1628.1 643.1 C1629.1 641.4 1630.0 639.7 1631.0 638.0 C1632.0 636.2 1632.9 634.5 1633.9 632.7 C1634.8 631.0 1635.7 629.2 1636.6 627.4 C1637.5 625.6 1638.4 623.8 1639.3 622.0 C1640.1 620.2 1641.0 618.4 1641.8 616.6 C1642.7 614.8 1643.5 613.0 1644.3 611.1 C1645.1 609.3 1645.9 607.5 1646.7 605.6 C1647.5 603.8 1648.3 601.9 1649.1 600.1 C1649.8 598.2 1650.6 596.4 1651.3 594.5 C1652.1 592.6 1652.8 590.7 1653.6 588.9 C1654.3 587.0 1655.0 585.1 1655.7 583.2 C1656.4 581.3 1657.2 579.4 1657.9 577.5 C1658.6 575.7 1659.3 573.8 1659.9 571.9 C1660.6 570.0 1661.3 568.1 1662.0 566.2 C1662.7 564.3 1663.4 562.4 1664.0 560.5 C1664.7 558.6 1665.4 556.6 1666.0 554.7 C1666.7 552.8 1667.4 550.9 1668.0 549.0 C1668.7 547.1 1669.4 545.2 1670.0 543.3 C1670.7 541.4 1671.3 539.5 1672.0 537.6 C1672.6 535.7 1673.3 533.8 1673.9 531.9 C1674.6 530.0 1675.2 528.1 1675.9 526.2 C1676.5 524.3 1677.2 522.3 1677.8 520.4 C1678.4 518.5 1679.1 516.6 1679.7 514.7 C1680.4 512.8 1681.0 510.9 1681.6 509.0 C1682.3 507.1 1682.9 505.2 1683.5 503.2 C1684.2 501.3 1684.8 499.4 1685.4 497.5 C1686.1 495.6 1686.7 493.7 1687.3 491.8 C1688.0 489.9 1688.6 487.9 1689.2 486.0 C1689.9 484.1 1690.5 482.2 1691.1 480.3 C1691.8 478.4 1692.4 476.5 1693.0 474.5 C1693.7 472.6 1694.3 470.7 1694.9 468.8 C1695.6 466.9 1696.2 465.0 1696.8 463.0 C1697.5 461.1 1698.1 459.2 1698.8 457.3 C1699.4 455.4 1700.0 453.4 1700.7 451.5 C1701.3 449.6 1702.0 447.7 1702.6 445.8 C1703.2 443.9 1703.9 441.9 1704.5 440.0 C1705.2 438.1 1705.8 436.2 1706.5 434.3 C1707.1 432.3 1707.8 430.4 1708.4 428.5 C1709.1 426.6 1709.7 424.6 1710.4 422.7 C1711.1 420.8 1711.7 418.9 1712.4 417.0 C1713.1 415.0 1713.7 413.1 1714.4 411.2 C1715.1 409.3 1715.7 407.3 1716.4 405.4 C1717.1 403.5 1717.8 401.6 1718.5 399.6 C1719.2 397.7 1719.8 395.8 1720.5 393.9 C1721.2 391.9 1721.9 390.0 1722.6 388.1 C1723.3 386.2 1724.0 384.3 1724.8 382.4 C1725.5 380.4 1726.2 378.5 1726.9 376.6 C1727.6 374.7 1728.4 372.8 1729.1 370.9 C1729.8 369.0 1730.6 367.1 1731.3 365.2 C1732.1 363.3 1732.8 361.4 1733.6 359.5 C1734.4 357.6 1735.1 355.7 1735.9 353.8 C1736.7 351.9 1737.5 350.0 1738.3 348.2 C1739.1 346.3 1739.9 344.4 1740.7 342.5 C1741.5 340.7 1742.3 338.8 1743.1 337.0 C1744.0 335.1 1744.8 333.2 1745.6 331.4 C1746.5 329.6 1747.3 327.7 1748.2 325.9 C1749.1 324.0 1749.9 322.2 1750.8 320.4 C1751.7 318.6 1752.6 316.8 1753.5 315.0 C1754.4 313.1 1755.3 311.3 1756.2 309.5 C1757.2 307.8 1758.1 306.0 1759.0 304.2 C1760.0 302.4 1760.9 300.6 1761.9 298.9 C1762.9 297.1 1763.9 295.4 1764.9 293.6 C1765.9 291.9 1766.9 290.1 1767.9 288.4 C1768.9 286.7 1769.9 285.0 1771.0 283.3 C1772.0 281.6 1773.1 279.9 1774.2 278.2 C1775.2 276.5 1776.3 274.8 1777.4 273.1 C1778.5 271.5 1779.6 269.8 1780.8 268.2 C1781.9 266.5 1783.0 264.9 1784.2 263.3 C1785.4 261.6 1786.5 260.0 1787.7 258.4 C1788.9 256.8 1790.1 255.2 1791.3 253.6 C1792.5 252.1 1793.8 250.5 1795.0 249.0 C1796.3 247.4 1797.5 245.9 1798.8 244.3 C1800.1 242.8 1801.4 241.3 1802.7 239.8 C1804.0 238.3 1805.3 236.8 1806.7 235.3 C1808.0 233.8 1809.3 232.3 1810.7 230.9 C1812.1 229.4 1813.4 228.0 1814.8 226.5 C1816.2 225.1 1817.6 223.7 1819.0 222.3 C1820.4 220.9 1821.9 219.5 1823.3 218.1 C1824.7 216.7 1826.2 215.3 1827.7 214.0 C1829.1 212.6 1830.6 211.2 1832.1 209.9 C1833.6 208.6 1835.1 207.2 1836.6 205.9 C1838.1 204.6 1839.6 203.3 1841.2 202.0 C1842.7 200.7 1844.2 199.5 1845.8 198.2 C1847.3 196.9 1848.9 195.7 1850.5 194.4 C1852.1 193.2 1853.7 192.0 1855.3 190.7 C1856.9 189.5 1858.5 188.3 1860.1 187.1 C1861.7 185.9 1863.3 184.8 1865.0 183.6 C1866.6 182.4 1868.3 181.3 1869.9 180.1 C1871.6 179.0 1873.2 177.9 1874.9 176.7 C1876.6 175.6 1878.3 174.5 1880.0 173.4 C1881.7 172.3 1883.4 171.2 1885.1 170.2 C1886.8 169.1 1888.5 168.1 1890.2 167.0 C1892.0 166.0 1893.7 164.9 1895.5 163.9 C1897.2 162.9 1899.0 161.9 1900.7 160.9 C1902.5 159.9 1904.2 158.9 1906.0 158.0 C1907.8 157.0 1909.6 156.0 1911.4 155.1 C1913.2 154.2 1914.9 153.2 1916.8 152.3 C1918.6 151.4 1920.4 150.5 1922.2 149.6 C1924.0 148.7 1925.8 147.8 1927.6 147.0 C1929.5 146.1 1931.3 145.2 1933.1 144.4 C1935.0 143.6 1936.8 142.7 1938.7 141.9 C1940.5 141.1 1942.4 140.3 1944.3 139.5 C1946.1 138.7 1948.0 137.9 1949.9 137.2 C1951.7 136.4 1953.6 135.7 1955.5 134.9 C1957.4 134.2 1959.2 133.5 1961.1 132.8 C1963.0 132.0 1964.9 131.3 1966.8 130.7 C1968.7 130.0 1970.6 129.3 1972.5 128.6 C1974.4 128.0 1976.3 127.3 1978.2 126.7 C1980.1 126.1 1982.1 125.4 1984.0 124.8 C1985.9 124.2 1987.8 123.6 1989.7 123.0 C1991.7 122.5 1993.6 121.9 1995.5 121.3 C1997.4 120.8 1999.4 120.2 2001.3 119.7 C2003.2 119.2 2005.2 118.6 2007.1 118.1 C2009.1 117.6 2011.0 117.1 2012.9 116.6 C2014.9 116.2 2016.8 115.7 2018.8 115.2 C2020.7 114.8 2022.7 114.3 2024.6 113.9 C2026.6 113.4 2028.5 113.0 2030.5 112.6 C2032.5 112.2 2034.4 111.8 2036.4 111.4 C2038.3 111.0 2040.3 110.6 2042.3 110.3 C2044.2 109.9 2046.2 109.5 2048.2 109.2 C2050.2 108.8 2052.1 108.5 2054.1 108.1 C2056.1 107.8 2058.1 107.5 2060.0 107.2 C2062.0 106.9 2064.0 106.6 2066.0 106.3 C2068.0 106.0 2069.9 105.7 2071.9 105.4 C2073.9 105.2 2075.9 104.9 2077.9 104.7 C2079.9 104.4 2081.9 104.2 2083.9 103.9 C2085.9 103.7 2087.9 103.5 2089.9 103.2 C2091.9 103.0 2093.9 102.8 2095.9 102.6 C2097.9 102.4 2099.9 102.2 2101.9 102.0 C2103.9 101.8 2105.9 101.7 2107.9 101.5 C2109.9 101.3 2111.9 101.2 2113.9 101.0 C2115.9 100.8 2117.9 100.7 2120.0 100.6 C2122.0 100.4 2124.0 100.3 2126.0 100.2 C2128.0 100.0 2130.0 99.9 2132.1 99.8 C2134.1 99.7 2136.1 99.6 2138.1 99.5 C2140.1 99.4 2142.2 99.3 2144.2 99.2 C2146.2 99.1 2148.2 99.0 2150.2 99.0 C2152.3 98.9 2154.3 98.8 2156.3 98.8 C2158.4 98.7 2160.4 98.6 2162.4 98.6 C2164.4 98.5 2166.5 98.5 2168.5 98.4 C2170.5 98.4 2172.6 98.4 2174.6 98.3 C2176.6 98.3 2178.7 98.3 2180.7 98.2 C2182.7 98.2 2184.8 98.2 2186.8 98.2 C2188.8 98.2 2190.9 98.2 2192.9 98.2 C2195.0 98.2 2197.0 98.1 2199.0 98.2 C2201.1 98.2 2203.1 98.2 2205.1 98.2 C2207.2 98.2 2209.2 98.2 2211.3 98.2 C2213.3 98.2 2215.4 98.2 2217.4 98.3 C2219.4 98.3 2221.5 98.3 2223.5 98.3 C2225.6 98.4 2227.6 98.4 2229.6 98.4 C2231.7 98.5 2233.7 98.5 2235.8 98.5 C2237.8 98.6 2239.9 98.6 2241.9 98.7 C2243.9 98.7 2246.0 98.8 2248.0 98.8 C2250.1 98.8 2252.1 98.9 2254.2 98.9 C2256.2 99.0 2258.3 99.0 2260.3 99.1 C2262.3 99.2 2264.4 99.2 2266.4 99.3 C2268.5 99.3 2270.5 99.4 2272.6 99.4 C2274.6 99.5 2276.6 99.5 2278.7 99.6 C2280.7 99.7 2282.8 99.7 2284.8 99.8 C2286.9 99.8 2288.9 99.9 2290.9 99.9 C2293.0 100.0 2295.0 100.1 2297.1 100.1 C2299.1 100.2 2301.1 100.2 2303.2 100.3 C2305.2 100.3 2307.3 100.4 2309.3 100.4 C2311.3 100.5 2313.4 100.6 2315.4 100.6 C2317.5 100.7 2319.5 100.7 2321.5 100.8 C2323.6 100.8 2325.6 100.9 2327.6 100.9 C2329.7 101.0 2331.7 101.0 2333.7 101.0 C2335.8 101.1 2337.8 101.1 2339.8 101.2 C2341.9 101.2 2343.9 101.2 2345.9 101.3 C2348.0 101.3 2350.0 101.3 2352.0 101.4 C2354.1 101.4 2356.1 101.4 2358.1 101.5 C2360.1 101.5 2362.2 101.5 2364.2 101.5 C2366.2 101.5 2368.2 101.5 2370.3 101.6 C2372.3 101.6 2374.3 101.6 2376.3 101.6 C2378.3 101.6 2380.4 101.6 2382.4 101.6 C2384.4 101.6 2386.4 101.6 2388.4 101.6 C2390.4 101.5 2392.4 101.5 2394.5 101.5 C2396.5 101.5 2398.5 101.5 2400.5 101.4 C2402.5 101.4 2404.5 101.4 2406.5 101.3 C2408.5 101.3 2410.5 101.2 2412.5 101.2 C2414.5 101.1 2416.5 101.1 2418.5 101.0 C2420.5 100.9 2422.5 100.9 2424.5 100.8 C2426.5 100.7 2428.5 100.7 2430.5 100.6 C2432.5 100.5 2434.5 100.4 2436.5 100.3 C2438.5 100.2 2440.5 100.1 2442.4 100.0 C2444.4 99.9 2446.4 99.8 2448.4 99.6 C2450.4 99.5 2452.4 99.4 2454.3 99.2 C2456.3 99.1 2458.3 98.9 2460.3 98.8 C2462.2 98.6 2464.2 98.5 2466.2 98.3 C2468.1 98.1 2470.1 98.0 2472.1 97.8 C2474.0 97.6 2476.0 97.4 2478.0 97.2 C2479.9 97.0 2482.9 96.7 2483.8 96.6" fill="none" stroke="#8c8c8c" stroke-width="1.4"/>
<path d="M1567.8 711.3 C1568.8 710.8 1571.7 709.5 1573.5 708.6 C1575.4 707.7 1577.3 706.8 1579.1 705.8 C1581.0 704.9 1582.8 703.9 1584.6 702.9 C1586.4 701.9 1588.2 700.9 1589.9 699.8 C1591.7 698.8 1593.4 697.7 1595.1 696.6 C1596.8 695.5 1598.5 694.4 1600.2 693.3 C1601.8 692.2 1603.5 691.0 1605.1 689.9 C1606.7 688.7 1608.3 687.5 1609.9 686.3 C1611.5 685.1 1613.1 683.9 1614.6 682.6 C1616.1 681.4 1617.7 680.1 1619.2 678.8 C1620.7 677.6 1622.2 676.3 1623.6 675.0 C1625.1 673.6 1626.6 672.3 1628.0 671.0 C1629.4 669.6 1630.9 668.3 1632.3 666.9 C1633.7 665.5 1635.0 664.1 1636.4 662.7 C1637.8 661.3 1639.1 659.9 1640.5 658.4 C1641.8 657.0 1643.1 655.5 1644.4 654.1 C1645.8 652.6 1647.1 651.1 1648.3 649.6 C1649.6 648.1 1650.9 646.6 1652.1 645.1 C1653.4 643.6 1654.6 642.0 1655.9 640.5 C1657.1 639.0 1658.3 637.4 1659.5 635.8 C1660.7 634.3 1661.9 632.7 1663.1 631.1 C1664.3 629.5 1665.4 627.9 1666.6 626.3 C1667.8 624.7 1668.9 623.0 1670.0 621.4 C1671.2 619.8 1672.3 618.1 1673.4 616.5 C1674.6 614.8 1675.7 613.2 1676.8 611.5 C1677.9 609.8 1679.0 608.2 1680.1 606.5 C1681.1 604.8 1682.2 603.1 1683.3 601.4 C1684.4 599.7 1685.4 598.0 1686.5 596.3 C1687.6 594.6 1688.6 592.9 1689.7 591.1 C1690.7 589.4 1691.7 587.7 1692.8 585.9 C1693.8 584.2 1694.8 582.5 1695.9 580.7 C1696.9 579.0 1697.9 577.2 1698.9 575.5 C1700.0 573.7 1701.0 572.0 1702.0 570.2 C1703.0 568.4 1704.0 566.7 1705.0 564.9 C1706.0 563.1 1707.0 561.4 1708.0 559.6 C1709.0 557.8 1710.0 556.0 1711.0 554.3 C1712.0 552.5 1713.0 550.7 1714.0 548.9 C1715.0 547.2 1716.0 545.4 1717.0 543.6 C1718.0 541.8 1719.0 540.0 1720.0 538.3 C1721.0 536.5 1722.0 534.7 1723.0 532.9 C1724.0 531.1 1725.0 529.4 1726.0 527.6 C1727.0 525.8 1728.0 524.0 1729.0 522.3 C1730.0 520.5 1731.0 518.7 1732.0 516.9 C1733.0 515.2 1734.1 513.4 1735.1 511.7 C1736.1 509.9 1737.1 508.1 1738.2 506.4 C1739.2 504.6 1740.2 502.9 1741.3 501.1 C1742.3 499.4 1743.3 497.6 1744.4 495.9 C1745.4 494.1 1746.5 492.4 1747.5 490.7 C1748.6 488.9 1749.6 487.2 1750.7 485.5 C1751.7 483.7 1752.8 482.0 1753.9 480.3 C1754.9 478.5 1756.0 476.8 1757.1 475.1 C1758.2 473.4 1759.3 471.7 1760.3 470.0 C1761.4 468.3 1762.5 466.5 1763.6 464.8 C1764.7 463.1 1765.8 461.4 1766.9 459.7 C1768.0 458.0 1769.1 456.4 1770.2 454.7 C1771.3 453.0 1772.4 451.3 1773.5 449.6 C1774.7 447.9 1775.8 446.2 1776.9 444.6 C1778.0 442.9 1779.2 441.2 1780.3 439.6 C1781.5 437.9 1782.6 436.2 1783.7 434.6 C1784.9 432.9 1786.0 431.3 1787.2 429.6 C1788.3 428.0 1789.5 426.3 1790.7 424.7 C1791.8 423.0 1793.0 421.4 1794.2 419.7 C1795.4 418.1 1796.5 416.5 1797.7 414.9 C1798.9 413.2 1800.1 411.6 1801.3 410.0 C1802.5 408.4 1803.7 406.8 1804.9 405.1 C1806.1 403.5 1807.3 401.9 1808.5 400.3 C1809.7 398.7 1811.0 397.1 1812.2 395.5 C1813.4 393.9 1814.6 392.4 1815.9 390.8 C1817.1 389.2 1818.3 387.6 1819.6 386.0 C1820.8 384.5 1822.1 382.9 1823.4 381.3 C1824.6 379.8 1825.9 378.2 1827.1 376.7 C1828.4 375.1 1829.7 373.6 1831.0 372.0 C1832.2 370.5 1833.5 368.9 1834.8 367.4 C1836.1 365.8 1837.4 364.3 1838.7 362.8 C1840.0 361.3 1841.3 359.7 1842.6 358.2 C1844.0 356.7 1845.3 355.2 1846.6 353.7 C1847.9 352.2 1849.3 350.7 1850.6 349.2 C1851.9 347.7 1853.3 346.2 1854.6 344.7 C1856.0 343.2 1857.3 341.8 1858.7 340.3 C1860.1 338.8 1861.4 337.3 1862.8 335.9 C1864.2 334.4 1865.6 333.0 1866.9 331.5 C1868.3 330.1 1869.7 328.6 1871.1 327.2 C1872.5 325.7 1873.9 324.3 1875.3 322.9 C1876.8 321.4 1878.2 320.0 1879.6 318.6 C1881.0 317.2 1882.5 315.7 1883.9 314.3 C1885.3 312.9 1886.8 311.5 1888.2 310.1 C1889.7 308.7 1891.1 307.3 1892.6 306.0 C1894.1 304.6 1895.5 303.2 1897.0 301.8 C1898.5 300.4 1900.0 299.1 1901.5 297.7 C1903.0 296.4 1904.4 295.0 1905.9 293.6 C1907.4 292.3 1909.0 291.0 1910.5 289.6 C1912.0 288.3 1913.5 287.0 1915.0 285.6 C1916.6 284.3 1918.1 283.0 1919.6 281.7 C1921.2 280.4 1922.7 279.1 1924.2 277.8 C1925.8 276.5 1927.3 275.2 1928.9 273.9 C1930.5 272.6 1932.0 271.3 1933.6 270.0 C1935.2 268.8 1936.8 267.5 1938.3 266.2 C1939.9 265.0 1941.5 263.7 1943.1 262.5 C1944.7 261.2 1946.3 260.0 1947.9 258.8 C1949.5 257.5 1951.1 256.3 1952.7 255.1 C1954.3 253.8 1956.0 252.6 1957.6 251.4 C1959.2 250.2 1960.8 249.0 1962.5 247.8 C1964.1 246.6 1965.8 245.5 1967.4 244.3 C1969.0 243.1 1970.7 241.9 1972.4 240.8 C1974.0 239.6 1975.7 238.4 1977.3 237.3 C1979.0 236.1 1980.7 235.0 1982.4 233.8 C1984.0 232.7 1985.7 231.6 1987.4 230.5 C1989.1 229.3 1990.8 228.2 1992.5 227.1 C1994.2 226.0 1995.9 224.9 1997.6 223.8 C1999.3 222.7 2001.0 221.6 2002.7 220.6 C2004.4 219.5 2006.1 218.4 2007.9 217.4 C2009.6 216.3 2011.3 215.2 2013.0 214.2 C2014.8 213.1 2016.5 212.1 2018.3 211.1 C2020.0 210.0 2021.7 209.0 2023.5 208.0 C2025.2 207.0 2027.0 206.0 2028.8 205.0 C2030.5 204.0 2032.3 203.0 2034.0 202.0 C2035.8 201.0 2037.6 200.0 2039.4 199.1 C2041.1 198.1 2042.9 197.1 2044.7 196.2 C2046.5 195.2 2048.3 194.3 2050.0 193.3 C2051.8 192.4 2053.6 191.5 2055.4 190.6 C2057.2 189.6 2059.0 188.7 2060.8 187.8 C2062.6 186.9 2064.5 186.0 2066.3 185.1 C2068.1 184.2 2069.9 183.4 2071.7 182.5 C2073.5 181.6 2075.4 180.8 2077.2 179.9 C2079.0 179.1 2080.9 178.2 2082.7 177.4 C2084.5 176.5 2086.4 175.7 2088.2 174.9 C2090.0 174.1 2091.9 173.3 2093.7 172.5 C2095.6 171.7 2097.4 170.9 2099.3 170.1 C2101.2 169.3 2103.0 168.5 2104.9 167.7 C2106.7 167.0 2108.6 166.2 2110.5 165.5 C2112.3 164.7 2114.2 164.0 2116.1 163.2 C2118.0 162.5 2119.8 161.8 2121.7 161.1 C2123.6 160.4 2125.5 159.7 2127.4 159.0 C2129.2 158.3 2131.1 157.6 2133.0 156.9 C2134.9 156.2 2136.8 155.6 2138.7 154.9 C2140.6 154.2 2142.5 153.6 2144.4 152.9 C2146.3 152.3 2148.2 151.7 2150.1 151.0 C2152.0 150.4 2153.9 149.8 2155.9 149.2 C2157.8 148.6 2159.7 148.0 2161.6 147.4 C2163.5 146.8 2165.4 146.2 2167.4 145.6 C2169.3 145.0 2171.2 144.5 2173.1 143.9 C2175.1 143.4 2177.0 142.8 2178.9 142.3 C2180.9 141.7 2182.8 141.2 2184.7 140.6 C2186.7 140.1 2188.6 139.6 2190.6 139.1 C2192.5 138.5 2194.4 138.0 2196.4 137.5 C2198.3 137.0 2200.3 136.5 2202.2 136.0 C2204.2 135.6 2206.1 135.1 2208.1 134.6 C2210.0 134.1 2212.0 133.7 2214.0 133.2 C2215.9 132.7 2217.9 132.3 2219.8 131.8 C2221.8 131.4 2223.8 131.0 2225.7 130.5 C2227.7 130.1 2229.7 129.7 2231.6 129.2 C2233.6 128.8 2235.6 128.4 2237.5 128.0 C2239.5 127.6 2241.5 127.2 2243.5 126.8 C2245.4 126.4 2247.4 126.0 2249.4 125.6 C2251.4 125.2 2253.3 124.8 2255.3 124.5 C2257.3 124.1 2259.3 123.7 2261.3 123.4 C2263.3 123.0 2265.2 122.6 2267.2 122.3 C2269.2 121.9 2271.2 121.6 2273.2 121.3 C2275.2 120.9 2277.2 120.6 2279.2 120.2 C2281.2 119.9 2283.2 119.6 2285.2 119.3 C2287.1 118.9 2289.1 118.6 2291.1 118.3 C2293.1 118.0 2295.1 117.7 2297.1 117.4 C2299.1 117.1 2301.1 116.8 2303.1 116.5 C2305.1 116.2 2307.1 115.9 2309.1 115.6 C2311.1 115.4 2313.1 115.1 2315.1 114.8 C2317.2 114.5 2319.2 114.3 2321.2 114.0 C2323.2 113.7 2325.2 113.5 2327.2 113.2 C2329.2 112.9 2331.2 112.7 2333.2 112.4 C2335.2 112.2 2337.2 111.9 2339.2 111.7 C2341.2 111.5 2343.3 111.2 2345.3 111.0 C2347.3 110.7 2349.3 110.5 2351.3 110.3 C2353.3 110.0 2355.3 109.8 2357.3 109.6 C2359.3 109.4 2361.4 109.2 2363.4 108.9 C2365.4 108.7 2367.4 108.5 2369.4 108.3 C2371.4 108.1 2373.4 107.9 2375.5 107.7 C2377.5 107.5 2379.5 107.3 2381.5 107.1 C2383.5 106.9 2385.5 106.7 2387.5 106.5 C2389.6 106.3 2391.6 106.1 2393.6 105.9 C2395.6 105.7 2397.6 105.5 2399.6 105.3 C2401.6 105.1 2403.7 104.9 2405.7 104.8 C2407.7 104.6 2409.7 104.4 2411.7 104.2 C2413.7 104.0 2415.7 103.9 2417.8 103.7 C2419.8 103.5 2421.8 103.3 2423.8 103.2 C2425.8 103.0 2427.8 102.8 2429.8 102.7 C2431.8 102.5 2433.8 102.3 2435.9 102.1 C2437.9 102.0 2439.9 101.8 2441.9 101.7 C2443.9 101.5 2445.9 101.3 2447.9 101.2 C2449.9 101.0 2451.9 100.8 2453.9 100.7 C2455.9 100.5 2458.0 100.4 2460.0 100.2 C2462.0 100.0 2464.0 99.9 2466.0 99.7 C2468.0 99.6 2470.0 99.4 2472.0 99.3 C2474.0 99.1 2476.0 98.9 2478.0 98.8 C2480.0 98.6 2483.0 98.4 2484.0 98.3" fill="none" stroke="#8c8c8c" stroke-width="1.4"/>
<path d="M1566.7 710.5 C1567.7 710.0 1570.5 708.7 1572.3 707.7 C1574.2 706.7 1576.0 705.7 1577.8 704.7 C1579.6 703.7 1581.3 702.6 1583.1 701.5 C1584.8 700.4 1586.5 699.3 1588.2 698.2 C1589.9 697.1 1591.5 695.9 1593.2 694.7 C1594.8 693.5 1596.4 692.3 1598.0 691.0 C1599.6 689.8 1601.1 688.5 1602.7 687.3 C1604.2 686.0 1605.7 684.7 1607.2 683.3 C1608.7 682.0 1610.2 680.6 1611.6 679.3 C1613.0 677.9 1614.5 676.5 1615.9 675.1 C1617.3 673.6 1618.6 672.2 1620.0 670.7 C1621.4 669.3 1622.7 667.8 1624.0 666.3 C1625.3 664.8 1626.6 663.3 1627.9 661.8 C1629.2 660.2 1630.4 658.7 1631.7 657.1 C1632.9 655.6 1634.1 654.0 1635.3 652.4 C1636.6 650.8 1637.7 649.2 1638.9 647.6 C1640.1 645.9 1641.2 644.3 1642.4 642.6 C1643.5 641.0 1644.6 639.3 1645.7 637.7 C1646.8 636.0 1647.9 634.3 1649.0 632.6 C1650.0 630.9 1651.1 629.2 1652.1 627.5 C1653.1 625.8 1654.2 624.0 1655.2 622.3 C1656.2 620.6 1657.2 618.8 1658.2 617.1 C1659.1 615.3 1660.1 613.6 1661.1 611.8 C1662.0 610.1 1663.0 608.3 1663.9 606.5 C1664.8 604.7 1665.7 602.9 1666.7 601.2 C1667.6 599.4 1668.5 597.6 1669.3 595.8 C1670.2 594.0 1671.1 592.2 1672.0 590.3 C1672.8 588.5 1673.7 586.7 1674.5 584.9 C1675.4 583.1 1676.2 581.2 1677.1 579.4 C1677.9 577.6 1678.7 575.8 1679.5 573.9 C1680.4 572.1 1681.2 570.2 1682.0 568.4 C1682.8 566.5 1683.6 564.7 1684.4 562.8 C1685.1 561.0 1685.9 559.1 1686.7 557.3 C1687.5 555.4 1688.3 553.6 1689.0 551.7 C1689.8 549.8 1690.6 548.0 1691.3 546.1 C1692.1 544.2 1692.9 542.4 1693.6 540.5 C1694.4 538.6 1695.1 536.8 1695.9 534.9 C1696.7 533.0 1697.4 531.1 1698.2 529.3 C1698.9 527.4 1699.7 525.5 1700.4 523.7 C1701.2 521.8 1701.9 519.9 1702.7 518.0 C1703.4 516.2 1704.2 514.3 1704.9 512.4 C1705.7 510.6 1706.4 508.7 1707.2 506.8 C1707.9 505.0 1708.7 503.1 1709.5 501.2 C1710.2 499.4 1711.0 497.5 1711.8 495.7 C1712.5 493.8 1713.3 491.9 1714.1 490.1 C1714.9 488.2 1715.6 486.4 1716.4 484.5 C1717.2 482.7 1718.0 480.9 1718.8 479.0 C1719.6 477.2 1720.4 475.3 1721.2 473.5 C1722.1 471.7 1722.9 469.8 1723.7 468.0 C1724.5 466.2 1725.4 464.4 1726.2 462.6 C1727.0 460.7 1727.9 458.9 1728.8 457.1 C1729.6 455.3 1730.5 453.5 1731.4 451.7 C1732.2 449.9 1733.1 448.1 1734.0 446.4 C1734.9 444.6 1735.8 442.8 1736.7 441.0 C1737.6 439.2 1738.5 437.4 1739.4 435.7 C1740.3 433.9 1741.2 432.1 1742.2 430.4 C1743.1 428.6 1744.0 426.8 1745.0 425.1 C1745.9 423.3 1746.9 421.5 1747.8 419.8 C1748.8 418.0 1749.8 416.3 1750.7 414.5 C1751.7 412.8 1752.7 411.0 1753.7 409.3 C1754.6 407.6 1755.6 405.8 1756.6 404.1 C1757.6 402.3 1758.6 400.6 1759.6 398.9 C1760.6 397.1 1761.6 395.4 1762.6 393.7 C1763.7 391.9 1764.7 390.2 1765.7 388.5 C1766.7 386.8 1767.8 385.0 1768.8 383.3 C1769.9 381.6 1770.9 379.9 1771.9 378.1 C1773.0 376.4 1774.1 374.7 1775.1 373.0 C1776.2 371.3 1777.2 369.5 1778.3 367.8 C1779.4 366.1 1780.5 364.4 1781.5 362.7 C1782.6 361.0 1783.7 359.2 1784.8 357.5 C1785.9 355.8 1787.0 354.1 1788.1 352.4 C1789.2 350.7 1790.3 349.0 1791.4 347.3 C1792.5 345.5 1793.6 343.8 1794.7 342.1 C1795.8 340.4 1796.9 338.7 1798.1 337.0 C1799.2 335.3 1800.3 333.6 1801.5 331.9 C1802.6 330.2 1803.7 328.5 1804.9 326.8 C1806.0 325.1 1807.2 323.4 1808.3 321.7 C1809.5 320.0 1810.7 318.3 1811.8 316.7 C1813.0 315.0 1814.2 313.3 1815.4 311.6 C1816.6 310.0 1817.8 308.3 1819.0 306.7 C1820.2 305.0 1821.4 303.4 1822.6 301.7 C1823.8 300.1 1825.0 298.4 1826.3 296.8 C1827.5 295.2 1828.7 293.6 1830.0 292.0 C1831.2 290.4 1832.5 288.8 1833.8 287.2 C1835.0 285.6 1836.3 284.0 1837.6 282.4 C1838.9 280.9 1840.2 279.3 1841.5 277.7 C1842.8 276.2 1844.1 274.6 1845.4 273.1 C1846.7 271.6 1848.1 270.1 1849.4 268.6 C1850.7 267.1 1852.1 265.6 1853.5 264.1 C1854.8 262.6 1856.2 261.1 1857.6 259.7 C1859.0 258.2 1860.4 256.8 1861.8 255.4 C1863.2 254.0 1864.6 252.5 1866.0 251.1 C1867.4 249.7 1868.9 248.4 1870.3 247.0 C1871.8 245.6 1873.2 244.3 1874.7 242.9 C1876.2 241.6 1877.7 240.3 1879.2 239.0 C1880.6 237.6 1882.1 236.3 1883.7 235.1 C1885.2 233.8 1886.7 232.5 1888.2 231.2 C1889.8 230.0 1891.3 228.7 1892.8 227.5 C1894.4 226.3 1896.0 225.0 1897.5 223.8 C1899.1 222.6 1900.7 221.4 1902.3 220.2 C1903.8 219.1 1905.4 217.9 1907.1 216.7 C1908.7 215.6 1910.3 214.4 1911.9 213.3 C1913.5 212.2 1915.2 211.1 1916.8 210.0 C1918.4 208.9 1920.1 207.8 1921.7 206.7 C1923.4 205.6 1925.1 204.5 1926.7 203.5 C1928.4 202.4 1930.1 201.4 1931.8 200.3 C1933.5 199.3 1935.2 198.3 1936.9 197.3 C1938.6 196.3 1940.3 195.3 1942.0 194.3 C1943.8 193.3 1945.5 192.3 1947.2 191.4 C1949.0 190.4 1950.7 189.5 1952.5 188.5 C1954.2 187.6 1956.0 186.6 1957.7 185.7 C1959.5 184.8 1961.3 183.9 1963.0 183.0 C1964.8 182.1 1966.6 181.2 1968.4 180.4 C1970.2 179.5 1972.0 178.6 1973.8 177.8 C1975.6 176.9 1977.4 176.1 1979.2 175.2 C1981.1 174.4 1982.9 173.6 1984.7 172.8 C1986.5 172.0 1988.4 171.2 1990.2 170.4 C1992.0 169.6 1993.9 168.8 1995.7 168.0 C1997.6 167.3 1999.5 166.5 2001.3 165.8 C2003.2 165.0 2005.0 164.3 2006.9 163.5 C2008.8 162.8 2010.7 162.1 2012.6 161.4 C2014.4 160.7 2016.3 160.0 2018.2 159.3 C2020.1 158.6 2022.0 157.9 2023.9 157.2 C2025.8 156.6 2027.7 155.9 2029.6 155.2 C2031.5 154.6 2033.4 153.9 2035.4 153.3 C2037.3 152.7 2039.2 152.0 2041.1 151.4 C2043.1 150.8 2045.0 150.2 2046.9 149.6 C2048.8 149.0 2050.8 148.4 2052.7 147.8 C2054.7 147.2 2056.6 146.6 2058.6 146.1 C2060.5 145.5 2062.4 144.9 2064.4 144.4 C2066.4 143.8 2068.3 143.3 2070.3 142.8 C2072.2 142.2 2074.2 141.7 2076.1 141.2 C2078.1 140.7 2080.1 140.2 2082.0 139.6 C2084.0 139.1 2086.0 138.6 2088.0 138.2 C2089.9 137.7 2091.9 137.2 2093.9 136.7 C2095.9 136.2 2097.8 135.8 2099.8 135.3 C2101.8 134.9 2103.8 134.4 2105.8 134.0 C2107.7 133.5 2109.7 133.1 2111.7 132.6 C2113.7 132.2 2115.7 131.8 2117.7 131.4 C2119.7 131.0 2121.6 130.5 2123.6 130.1 C2125.6 129.7 2127.6 129.3 2129.6 128.9 C2131.6 128.6 2133.6 128.2 2135.6 127.8 C2137.6 127.4 2139.6 127.0 2141.6 126.7 C2143.6 126.3 2145.6 125.9 2147.5 125.6 C2149.5 125.2 2151.5 124.9 2153.5 124.5 C2155.5 124.2 2157.5 123.9 2159.5 123.5 C2161.5 123.2 2163.5 122.9 2165.5 122.6 C2167.5 122.2 2169.5 121.9 2171.5 121.6 C2173.5 121.3 2175.4 121.0 2177.4 120.7 C2179.4 120.4 2181.4 120.1 2183.4 119.8 C2185.4 119.5 2187.4 119.3 2189.4 119.0 C2191.4 118.7 2193.4 118.4 2195.4 118.2 C2197.4 117.9 2199.4 117.6 2201.4 117.4 C2203.4 117.1 2205.3 116.9 2207.3 116.6 C2209.3 116.4 2211.3 116.1 2213.3 115.9 C2215.3 115.6 2217.3 115.4 2219.3 115.2 C2221.3 114.9 2223.3 114.7 2225.3 114.5 C2227.3 114.3 2229.3 114.0 2231.3 113.8 C2233.3 113.6 2235.2 113.4 2237.2 113.2 C2239.2 113.0 2241.2 112.8 2243.2 112.6 C2245.2 112.4 2247.2 112.2 2249.2 112.0 C2251.2 111.8 2253.2 111.6 2255.2 111.4 C2257.2 111.2 2259.2 111.1 2261.2 110.9 C2263.2 110.7 2265.2 110.5 2267.2 110.4 C2269.2 110.2 2271.2 110.0 2273.2 109.8 C2275.1 109.7 2277.1 109.5 2279.1 109.4 C2281.1 109.2 2283.1 109.0 2285.1 108.9 C2287.1 108.7 2289.1 108.6 2291.1 108.4 C2293.1 108.3 2295.1 108.1 2297.1 108.0 C2299.1 107.8 2301.1 107.7 2303.1 107.6 C2305.1 107.4 2307.1 107.3 2309.1 107.1 C2311.1 107.0 2313.1 106.9 2315.1 106.7 C2317.1 106.6 2319.1 106.5 2321.1 106.3 C2323.1 106.2 2325.1 106.1 2327.1 106.0 C2329.1 105.8 2331.1 105.7 2333.1 105.6 C2335.1 105.5 2337.1 105.4 2339.1 105.2 C2341.1 105.1 2343.1 105.0 2345.1 104.9 C2347.1 104.8 2349.1 104.7 2351.1 104.5 C2353.2 104.4 2355.2 104.3 2357.2 104.2 C2359.2 104.1 2361.2 104.0 2363.2 103.9 C2365.2 103.8 2367.2 103.7 2369.2 103.6 C2371.2 103.5 2373.2 103.3 2375.2 103.2 C2377.2 103.1 2379.2 103.0 2381.2 102.9 C2383.3 102.8 2385.3 102.7 2387.3 102.6 C2389.3 102.5 2391.3 102.4 2393.3 102.3 C2395.3 102.2 2397.3 102.1 2399.3 102.0 C2401.3 101.9 2403.4 101.8 2405.4 101.7 C2407.4 101.6 2409.4 101.5 2411.4 101.4 C2413.4 101.3 2415.4 101.1 2417.5 101.0 C2419.5 100.9 2421.5 100.8 2423.5 100.7 C2425.5 100.6 2427.5 100.5 2429.6 100.4 C2431.6 100.3 2433.6 100.2 2435.6 100.1 C2437.6 100.0 2439.6 99.9 2441.7 99.8 C2443.7 99.6 2445.7 99.5 2447.7 99.4 C2449.8 99.3 2451.8 99.2 2453.8 99.1 C2455.8 99.0 2457.8 98.8 2459.9 98.7 C2461.9 98.6 2463.9 98.5 2465.9 98.4 C2468.0 98.2 2470.0 98.1 2472.0 98.0 C2474.0 97.9 2476.1 97.7 2478.1 97.6 C2480.1 97.5 2483.2 97.3 2484.2 97.2" fill="none" stroke="#000" stroke-width="3.8" stroke-dasharray="13.5 12.5"/>
<path d="M1509 710.5 L1713 459.5 L1788.5 380 L1868.5 299.1 L1873.8 296.1 L1879.2 293.2 L1884.5 290.3 L1889.9 287.4 L1895.2 284.6 L1900.6 281.7 L1906.0 278.9 L1911.4 276.1 L1916.8 273.3 L1922.2 270.5 L1927.7 267.8 L1933.1 265.0 L1938.5 262.3 L1944.0 259.6 L1949.5 256.9 L1954.9 254.3 L1960.4 251.7 L1965.9 249.1 L1971.4 246.5 L1976.9 243.9 L1982.4 241.4 L1988.0 238.9 L1993.5 236.4 L1999.1 233.9 L2004.6 231.5 L2010.2 229.1 L2015.8 226.7 L2021.4 224.3 L2027.0 222.0 L2032.6 219.7 L2038.2 217.4 L2043.9 215.1 L2049.5 212.9 L2055.2 210.7 L2060.9 208.5 L2066.5 206.4 L2072.2 204.3 L2077.9 202.2 L2083.6 200.2 L2089.3 198.1 L2095.1 196.1 L2100.8 194.1 L2106.6 192.2 L2112.3 190.3 L2118.1 188.4 L2123.9 186.5 L2129.6 184.6 L2135.4 182.8 L2141.2 181.0 L2147.0 179.2 L2152.8 177.5 L2158.7 175.7 L2164.5 174.0 L2170.3 172.3 L2176.2 170.7 L2182.0 169.0 L2187.9 167.4 L2193.7 165.8 L2199.6 164.2 L2205.5 162.6 L2211.3 161.0 L2217.2 159.5 L2223.1 158.0 L2229.0 156.5 L2234.9 155.0 L2240.8 153.5 L2246.7 152.1 L2252.6 150.6 L2258.5 149.2 L2264.4 147.7 L2270.3 146.3 L2276.2 144.9 L2282.1 143.6 L2288.1 142.2 L2294.0 140.8 L2299.9 139.5 L2305.9 138.1 L2311.8 136.8 L2317.7 135.4 L2323.7 134.1 L2329.6 132.8 L2335.5 131.5 L2341.5 130.2 L2347.4 128.9 L2353.4 127.6 L2359.3 126.3 L2365.2 125.0 L2371.2 123.7 L2377.1 122.4 L2383.1 121.1 L2389.0 119.8 L2394.9 118.5 L2400.9 117.3 L2406.8 116.0 L2412.8 114.7 L2418.7 113.4 L2424.6 112.1 L2430.6 110.8 L2436.5 109.5 L2442.4 108.2 L2448.3 106.9 L2454.3 105.6 L2460.2 104.3 L2466.1 102.9 L2472.0 101.6 L2477.9 100.3 L2483.8 98.9" fill="none" stroke="#0b52a8" stroke-width="6" stroke-linejoin="miter"/>
<path d="M1509.0 710.5 L1851.5 294.0  C1860.5 289.2 1885.6 276.3 1905.6 265.5 C1925.6 254.7 1953.1 238.8 1971.3 229.0 C1989.5 219.2 2003.5 212.5 2015.0 207.0 C2026.5 201.5 2028.7 201.2 2040.0 196.0 C2051.3 190.8 2069.3 182.0 2083.0 176.0 C2096.7 170.0 2109.0 165.0 2122.0 160.0 C2135.0 155.0 2139.7 151.6 2161.0 146.0 C2182.3 140.4 2217.7 132.3 2250.0 126.5 C2282.3 120.7 2324.5 115.2 2355.0 111.0 C2385.5 106.8 2411.5 103.4 2433.0 101.0 C2454.5 98.6 2475.5 97.2 2484.0 96.5" fill="none" stroke="#d8b66c" stroke-width="4.6" stroke-linejoin="miter"/>
<path d="M1509.0 710.5 L1850.0 269.3  C1859.3 265.1 1885.4 253.3 1905.6 244.1 C1925.8 234.9 1948.9 223.3 1971.3 214.0 C1993.7 204.7 2021.4 194.9 2040.0 188.5 C2058.6 182.1 2069.3 180.0 2083.0 175.5 C2096.7 171.0 2109.0 165.9 2122.0 161.5 C2135.0 157.1 2148.0 152.8 2161.0 149.0 C2174.0 145.2 2185.2 142.5 2200.0 139.0 C2214.8 135.5 2233.3 131.3 2250.0 128.0 C2266.7 124.7 2282.5 121.8 2300.0 119.0 C2317.5 116.2 2332.8 114.4 2355.0 111.5 C2377.2 108.6 2411.5 103.9 2433.0 101.4 C2454.5 98.9 2475.5 97.3 2484.0 96.5" fill="none" stroke="#5c3f0a" stroke-width="4.6" stroke-linejoin="miter"/>
<path d="M1509.0 710.5 L1847.0 245.0  C1856.8 241.9 1884.9 233.1 1905.6 226.6 C1926.3 220.1 1948.9 213.1 1971.3 205.8 C1993.7 198.5 2021.4 188.6 2040.0 182.8 C2058.6 177.0 2069.3 175.1 2083.0 171.0 C2096.7 166.9 2109.0 162.0 2122.0 158.0 C2135.0 154.0 2148.0 150.3 2161.0 147.0 C2174.0 143.7 2180.5 142.0 2200.0 138.0 C2219.5 134.0 2252.2 127.5 2278.0 123.0 C2303.8 118.5 2329.2 114.7 2355.0 111.1 C2380.8 107.5 2411.5 103.8 2433.0 101.4 C2454.5 99.0 2475.5 97.3 2484.0 96.5" fill="none" stroke="#c25b36" stroke-width="4.6" stroke-linejoin="miter"/>
<path d="M1628.0 706.5 C1629.0 706.5 1632.0 706.7 1634.1 706.8 C1636.1 706.9 1638.1 706.9 1640.1 707.0 C1642.1 707.1 1644.2 707.1 1646.2 707.2 C1648.2 707.2 1650.2 707.2 1652.2 707.2 C1654.3 707.2 1656.3 707.2 1658.3 707.2 C1660.3 707.2 1662.3 707.2 1664.4 707.2 C1666.4 707.1 1668.4 707.1 1670.4 707.0 C1672.4 706.9 1674.4 706.9 1676.5 706.8 C1678.5 706.7 1680.5 706.6 1682.5 706.5 C1684.5 706.4 1686.5 706.3 1688.5 706.1 C1690.5 706.0 1692.6 705.9 1694.6 705.7 C1696.6 705.6 1698.6 705.4 1700.6 705.2 C1702.6 705.0 1704.6 704.9 1706.6 704.7 C1708.6 704.5 1710.6 704.3 1712.6 704.0 C1714.6 703.8 1716.6 703.6 1718.6 703.4 C1720.6 703.1 1722.6 702.9 1724.6 702.6 C1726.6 702.4 1728.6 702.1 1730.6 701.8 C1732.6 701.5 1734.6 701.2 1736.6 700.9 C1738.6 700.6 1740.6 700.3 1742.6 700.0 C1744.6 699.7 1746.5 699.4 1748.5 699.1 C1750.5 698.7 1752.5 698.4 1754.5 698.0 C1756.5 697.7 1758.4 697.3 1760.4 696.9 C1762.4 696.6 1764.4 696.2 1766.3 695.8 C1768.3 695.4 1770.3 695.0 1772.3 694.6 C1774.2 694.2 1776.2 693.8 1778.2 693.4 C1780.1 693.0 1782.1 692.6 1784.1 692.1 C1786.0 691.7 1788.0 691.3 1790.0 690.8 C1791.9 690.4 1793.9 689.9 1795.8 689.4 C1797.8 689.0 1799.7 688.5 1801.7 688.0 C1803.6 687.6 1805.6 687.1 1807.5 686.6 C1809.5 686.1 1811.4 685.6 1813.3 685.1 C1815.3 684.6 1817.2 684.1 1819.2 683.5 C1821.1 683.0 1823.0 682.5 1824.9 681.9 C1826.9 681.3 1828.8 680.7 1830.7 680.1 C1832.6 679.4 1834.5 678.7 1836.4 677.9 C1838.2 677.2 1840.1 676.3 1842.0 675.5 C1843.8 674.6 1845.7 673.6 1847.4 672.6 C1849.2 671.6 1851.0 670.5 1852.7 669.4 C1854.4 668.3 1856.1 667.1 1857.7 665.9 C1859.3 664.7 1860.9 663.4 1862.4 662.1 C1863.9 660.8 1865.4 659.4 1866.8 658.0 C1868.3 656.6 1869.7 655.2 1871.0 653.8 C1872.3 652.3 1873.6 650.8 1874.9 649.2 C1876.1 647.7 1877.3 646.1 1878.5 644.5 C1879.7 642.9 1880.8 641.3 1881.9 639.6 C1883.0 637.9 1884.0 636.2 1885.0 634.5 C1886.0 632.8 1887.0 631.0 1887.9 629.3 C1888.9 627.5 1889.8 625.7 1890.7 623.9 C1891.5 622.1 1892.4 620.2 1893.2 618.4 C1894.0 616.5 1894.7 614.6 1895.5 612.7 C1896.2 610.8 1896.9 608.9 1897.6 607.0 C1898.3 605.1 1898.9 603.2 1899.5 601.2 C1900.2 599.3 1900.8 597.3 1901.3 595.4 C1901.9 593.4 1902.4 591.4 1902.9 589.5 C1903.5 587.5 1904.0 585.5 1904.4 583.5 C1904.9 581.6 1905.4 579.6 1905.8 577.6 C1906.2 575.6 1906.6 573.7 1907.0 571.7 C1907.4 569.7 1907.8 567.7 1908.2 565.8 C1908.5 563.8 1908.9 561.8 1909.3 559.9 C1909.7 557.9 1910.1 556.0 1910.5 554.1 C1910.9 552.1 1911.4 550.2 1911.9 548.3 C1912.4 546.4 1912.9 544.5 1913.5 542.6 C1914.1 540.7 1914.7 538.8 1915.4 536.9 C1916.1 535.1 1916.9 533.2 1917.7 531.4 C1918.5 529.5 1919.5 527.7 1920.5 525.9 C1921.4 524.1 1922.5 522.4 1923.7 520.7 C1924.8 518.9 1926.0 517.2 1927.3 515.6 C1928.6 514.0 1929.9 512.4 1931.3 510.9 C1932.7 509.4 1934.2 507.9 1935.7 506.5 C1937.2 505.2 1938.8 503.9 1940.4 502.6 C1942.0 501.4 1943.7 500.3 1945.4 499.3 C1947.2 498.2 1948.9 497.3 1950.7 496.5 C1952.6 495.7 1954.4 495.0 1956.3 494.4 C1958.2 493.8 1960.1 493.3 1962.1 492.8 C1964.0 492.4 1966.0 492.0 1968.0 491.7 C1970.0 491.4 1972.0 491.1 1974.1 490.9 C1976.1 490.6 1978.2 490.4 1980.2 490.2 C1982.3 490.1 1984.3 489.9 1986.4 489.7 C1988.4 489.5 1990.5 489.3 1992.5 489.1 C1994.5 488.9 1996.6 488.7 1998.6 488.4 C2000.6 488.1 2002.6 487.7 2004.6 487.3 C2006.5 486.9 2008.5 486.4 2010.4 485.9 C2012.3 485.3 2014.2 484.7 2016.1 484.0 C2017.9 483.3 2019.8 482.5 2021.6 481.6 C2023.3 480.8 2025.1 479.9 2026.8 478.9 C2028.6 478.0 2030.3 476.9 2031.9 475.8 C2033.6 474.7 2035.2 473.6 2036.8 472.4 C2038.4 471.2 2040.0 469.9 2041.5 468.6 C2043.1 467.3 2044.6 465.9 2046.0 464.6 C2047.5 463.2 2048.9 461.7 2050.3 460.2 C2051.7 458.7 2053.0 457.2 2054.3 455.6 C2055.6 454.1 2056.9 452.5 2058.1 450.8 C2059.3 449.2 2060.5 447.6 2061.7 445.9 C2062.8 444.2 2063.9 442.5 2065.0 440.7 C2066.0 439.0 2067.0 437.2 2068.0 435.4 C2069.0 433.6 2070.0 431.8 2070.9 430.0 C2071.8 428.2 2072.7 426.3 2073.6 424.5 C2074.4 422.7 2075.3 420.8 2076.1 418.9 C2076.9 417.1 2077.7 415.2 2078.5 413.3 C2079.3 411.5 2080.1 409.6 2080.9 407.7 C2081.6 405.8 2082.4 403.9 2083.2 402.1 C2083.9 400.2 2084.7 398.3 2085.5 396.5 C2086.2 394.6 2087.0 392.8 2087.8 391.0 C2088.6 389.1 2089.4 387.3 2090.2 385.5 C2091.0 383.7 2091.8 381.9 2092.6 380.2 C2093.5 378.4 2094.4 376.7 2095.2 374.9 C2096.1 373.2 2097.0 371.5 2097.9 369.8 C2098.8 368.0 2099.8 366.3 2100.7 364.6 C2101.6 362.8 2102.5 361.0 2103.5 359.2 C2104.4 357.4 2105.3 355.6 2106.2 353.8 C2107.2 351.9 2108.1 350.1 2109.1 348.2 C2110.0 346.4 2111.0 344.5 2111.9 342.6 C2112.9 340.8 2113.9 338.9 2114.9 337.0 C2115.9 335.2 2116.9 333.4 2118.0 331.6 C2119.1 329.8 2120.1 328.0 2121.3 326.2 C2122.4 324.5 2123.5 322.8 2124.7 321.1 C2125.9 319.4 2127.1 317.8 2128.4 316.3 C2129.7 314.7 2131.0 313.2 2132.3 311.8 C2133.7 310.3 2135.1 309.0 2136.5 307.7 C2138.0 306.4 2139.5 305.2 2141.1 304.0 C2142.7 302.9 2144.3 301.9 2146.0 300.9 C2147.7 300.0 2149.4 299.2 2151.2 298.4 C2153.1 297.6 2154.9 296.9 2156.8 296.3 C2158.7 295.7 2160.7 295.1 2162.6 294.6 C2164.6 294.1 2166.6 293.6 2168.6 293.2 C2170.7 292.7 2172.7 292.3 2174.8 291.9 C2176.8 291.5 2178.9 291.2 2181.0 290.8 C2183.0 290.4 2185.1 290.1 2187.2 289.7 C2189.2 289.3 2191.3 288.9 2193.3 288.4 C2195.3 288.0 2197.3 287.5 2199.3 287.0 C2201.3 286.5 2203.3 285.9 2205.2 285.3 C2207.1 284.7 2209.0 284.0 2210.8 283.2 C2212.6 282.4 2214.4 281.6 2216.1 280.7 C2217.8 279.7 2219.5 278.7 2221.1 277.6 C2222.7 276.5 2224.3 275.3 2225.9 274.1 C2227.4 272.9 2228.9 271.6 2230.4 270.3 C2231.9 269.0 2233.4 267.6 2234.8 266.3 C2236.3 264.9 2237.7 263.5 2239.2 262.1 C2240.6 260.7 2242.1 259.3 2243.6 257.9 C2245.0 256.6 2246.5 255.2 2248.0 253.8 C2249.5 252.5 2251.0 251.2 2252.6 249.9 C2254.1 248.6 2255.7 247.3 2257.3 246.1 C2258.9 244.8 2260.5 243.6 2262.1 242.4 C2263.8 241.3 2265.4 240.1 2267.1 239.0 C2268.8 237.9 2270.5 236.8 2272.2 235.7 C2273.9 234.7 2275.6 233.7 2277.4 232.7 C2279.2 231.7 2281.0 230.8 2282.8 229.9 C2284.6 229.0 2286.4 228.1 2288.3 227.3 C2290.1 226.5 2292.0 225.7 2293.9 225.0 C2295.8 224.2 2297.7 223.6 2299.6 222.9 C2301.6 222.2 2303.5 221.6 2305.5 221.0 C2307.4 220.4 2309.4 219.8 2311.3 219.1 C2313.2 218.5 2315.2 217.9 2317.1 217.1 C2318.9 216.4 2320.8 215.7 2322.6 214.8 C2324.4 214.0 2326.1 213.1 2327.8 212.1 C2329.5 211.0 2331.1 209.9 2332.7 208.7 C2334.2 207.5 2335.7 206.2 2337.2 204.8 C2338.6 203.4 2340.0 202.0 2341.4 200.5 C2342.8 199.0 2344.1 197.4 2345.4 195.9 C2346.7 194.3 2348.0 192.7 2349.2 191.1 C2350.5 189.5 2351.7 187.8 2352.9 186.2 C2354.2 184.6 2355.4 182.9 2356.6 181.3 C2357.8 179.7 2359.0 178.0 2360.3 176.4 C2361.5 174.8 2362.7 173.2 2364.0 171.7 C2365.3 170.1 2366.6 168.5 2367.9 167.0 C2369.2 165.5 2370.6 164.0 2372.0 162.6 C2373.4 161.2 2374.8 159.8 2376.3 158.4 C2377.7 157.0 2379.2 155.7 2380.8 154.4 C2382.3 153.1 2383.9 151.8 2385.5 150.6 C2387.0 149.3 2388.7 148.1 2390.3 146.9 C2391.9 145.7 2393.6 144.6 2395.2 143.4 C2396.9 142.3 2398.5 141.1 2400.2 140.0 C2401.9 138.9 2403.6 137.8 2405.3 136.7 C2407.0 135.7 2408.7 134.6 2410.5 133.6 C2412.2 132.5 2413.9 131.5 2415.7 130.5 C2417.4 129.5 2419.2 128.5 2420.9 127.5 C2422.7 126.5 2424.4 125.5 2426.2 124.5 C2428.0 123.6 2429.8 122.6 2431.6 121.7 C2433.3 120.7 2435.1 119.8 2436.9 118.9 C2438.7 117.9 2440.5 117.0 2442.3 116.1 C2444.1 115.2 2445.9 114.3 2447.8 113.4 C2449.6 112.5 2451.4 111.6 2453.2 110.7 C2455.0 109.8 2456.8 108.9 2458.6 108.0 C2460.4 107.2 2462.3 106.3 2464.1 105.4 C2465.9 104.5 2467.7 103.6 2469.5 102.8 C2471.3 101.9 2473.1 101.0 2474.9 100.1 C2476.7 99.2 2478.5 98.4 2480.3 97.5 C2482.1 96.6 2484.8 95.2 2485.7 94.8" fill="none" stroke="#1d8429" stroke-width="6.8" stroke-linecap="butt"/>
<path d="M1704 309.6 L1773 347 M1703 338.9 L1768 371.7 M1705 366 L1765.5 397.6" stroke="#000" stroke-width="2"/>
<text transform="translate(1631.0,307.8) scale(1,1.040)" font-size="29.0" fill="#b5532f" font-style="italic" textLength="63.5" lengthAdjust="spacing">K = 6</text>
<text transform="translate(1631.0,338.2) scale(1,1.040)" font-size="29.0" fill="#000" font-style="italic" textLength="63.5" lengthAdjust="spacing">K = 4</text>
<text transform="translate(1631.0,368.6) scale(1,1.040)" font-size="29.0" fill="#8c7443" font-style="italic" textLength="63.5" lengthAdjust="spacing">K = 2</text>
<text transform="translate(1875.0,206.0) scale(1,1.040) rotate(-20.74)" font-size="30.0" fill="#000" font-style="italic">Pujol et al. 2013</text>
<text transform="translate(1982.0,282.0) scale(1,1.040) rotate(-19.77)" font-size="33.5" fill="#0d4fa0" font-style="italic">Dhuime et al. 2012</text>
<text transform="translate(2148.0,358.0) scale(1,1.040) rotate(-28.06)" font-size="28.5" fill="#1d6628" font-style="italic">Nd model ages</text>
<text transform="translate(2150.0,387.0) scale(1,1.040) rotate(-28.06)" font-size="22.0" fill="#1d6628" font-style="italic">Condie &amp; Aster 2010</text>
</svg></body></html>
